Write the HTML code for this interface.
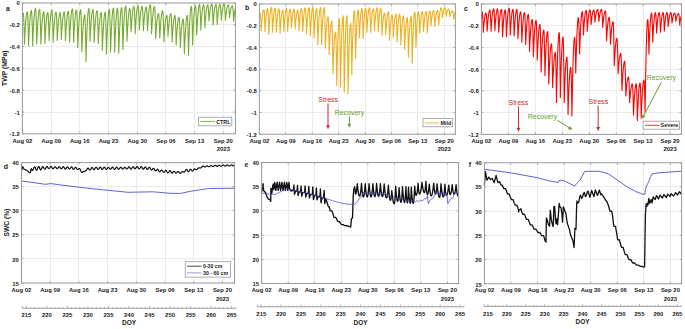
<!DOCTYPE html>
<html><head><meta charset="utf-8"><style>
html,body{margin:0;padding:0;background:#fff;width:685px;height:329px;overflow:hidden}
text{font-family:'Liberation Sans',sans-serif}
</style></head><body>
<svg width="685" height="329" viewBox="0 0 685 329" style="display:block;font-family:'Liberation Sans',sans-serif">
<rect width="685" height="329" fill="#fff"/>
<line x1="51.50" y1="3.00" x2="51.50" y2="133.80" stroke="#ebebeb" stroke-width="1"/>
<line x1="79.50" y1="3.00" x2="79.50" y2="133.80" stroke="#ebebeb" stroke-width="1"/>
<line x1="108.50" y1="3.00" x2="108.50" y2="133.80" stroke="#ebebeb" stroke-width="1"/>
<line x1="137.50" y1="3.00" x2="137.50" y2="133.80" stroke="#ebebeb" stroke-width="1"/>
<line x1="165.50" y1="3.00" x2="165.50" y2="133.80" stroke="#ebebeb" stroke-width="1"/>
<line x1="194.50" y1="3.00" x2="194.50" y2="133.80" stroke="#ebebeb" stroke-width="1"/>
<line x1="223.50" y1="3.00" x2="223.50" y2="133.80" stroke="#ebebeb" stroke-width="1"/>
<line x1="22.40" y1="24.50" x2="235.45" y2="24.50" stroke="#ebebeb" stroke-width="1"/>
<line x1="22.40" y1="46.50" x2="235.45" y2="46.50" stroke="#ebebeb" stroke-width="1"/>
<line x1="22.40" y1="68.50" x2="235.45" y2="68.50" stroke="#ebebeb" stroke-width="1"/>
<line x1="22.40" y1="90.50" x2="235.45" y2="90.50" stroke="#ebebeb" stroke-width="1"/>
<line x1="22.40" y1="112.50" x2="235.45" y2="112.50" stroke="#ebebeb" stroke-width="1"/>
<line x1="285.50" y1="3.90" x2="285.50" y2="134.25" stroke="#ebebeb" stroke-width="1"/>
<line x1="312.50" y1="3.90" x2="312.50" y2="134.25" stroke="#ebebeb" stroke-width="1"/>
<line x1="338.50" y1="3.90" x2="338.50" y2="134.25" stroke="#ebebeb" stroke-width="1"/>
<line x1="365.50" y1="3.90" x2="365.50" y2="134.25" stroke="#ebebeb" stroke-width="1"/>
<line x1="391.50" y1="3.90" x2="391.50" y2="134.25" stroke="#ebebeb" stroke-width="1"/>
<line x1="417.50" y1="3.90" x2="417.50" y2="134.25" stroke="#ebebeb" stroke-width="1"/>
<line x1="444.50" y1="3.90" x2="444.50" y2="134.25" stroke="#ebebeb" stroke-width="1"/>
<line x1="259.35" y1="25.50" x2="455.40" y2="25.50" stroke="#ebebeb" stroke-width="1"/>
<line x1="259.35" y1="47.50" x2="455.40" y2="47.50" stroke="#ebebeb" stroke-width="1"/>
<line x1="259.35" y1="69.50" x2="455.40" y2="69.50" stroke="#ebebeb" stroke-width="1"/>
<line x1="259.35" y1="90.50" x2="455.40" y2="90.50" stroke="#ebebeb" stroke-width="1"/>
<line x1="259.35" y1="112.50" x2="455.40" y2="112.50" stroke="#ebebeb" stroke-width="1"/>
<line x1="508.50" y1="3.95" x2="508.50" y2="134.40" stroke="#ebebeb" stroke-width="1"/>
<line x1="535.50" y1="3.95" x2="535.50" y2="134.40" stroke="#ebebeb" stroke-width="1"/>
<line x1="562.50" y1="3.95" x2="562.50" y2="134.40" stroke="#ebebeb" stroke-width="1"/>
<line x1="589.50" y1="3.95" x2="589.50" y2="134.40" stroke="#ebebeb" stroke-width="1"/>
<line x1="616.50" y1="3.95" x2="616.50" y2="134.40" stroke="#ebebeb" stroke-width="1"/>
<line x1="643.50" y1="3.95" x2="643.50" y2="134.40" stroke="#ebebeb" stroke-width="1"/>
<line x1="670.50" y1="3.95" x2="670.50" y2="134.40" stroke="#ebebeb" stroke-width="1"/>
<line x1="481.40" y1="25.50" x2="681.45" y2="25.50" stroke="#ebebeb" stroke-width="1"/>
<line x1="481.40" y1="47.50" x2="681.45" y2="47.50" stroke="#ebebeb" stroke-width="1"/>
<line x1="481.40" y1="69.50" x2="681.45" y2="69.50" stroke="#ebebeb" stroke-width="1"/>
<line x1="481.40" y1="90.50" x2="681.45" y2="90.50" stroke="#ebebeb" stroke-width="1"/>
<line x1="481.40" y1="112.50" x2="681.45" y2="112.50" stroke="#ebebeb" stroke-width="1"/>
<polyline points="22.40,17.00 22.61,16.41 22.81,15.00 23.02,13.59 23.22,13.00 23.43,13.86 23.63,16.46 23.84,20.77 24.04,26.82 24.25,34.60 24.45,44.10 24.66,39.65 24.86,35.53 25.07,31.74 25.27,28.28 25.48,25.15 25.68,22.35 25.89,19.88 26.09,17.73 26.30,15.92 26.50,14.44 26.71,13.28 26.91,12.46 27.12,11.96 27.32,11.80 27.53,12.75 27.73,15.59 27.94,20.32 28.14,26.96 28.35,35.48 28.55,45.90 28.76,41.00 28.96,36.46 29.17,32.28 29.37,28.46 29.58,25.01 29.78,21.92 29.99,19.20 30.19,16.84 30.40,14.84 30.60,13.21 30.81,11.93 31.01,11.03 31.22,10.48 31.42,10.30 31.63,11.29 31.83,14.26 32.04,19.20 32.24,26.12 32.45,35.02 32.65,45.90 32.86,40.75 33.06,35.98 33.27,31.59 33.47,27.58 33.68,23.96 33.88,20.71 34.09,17.85 34.29,15.37 34.50,13.27 34.70,11.55 34.91,10.22 35.11,9.26 35.32,8.69 35.52,8.50 35.73,9.49 35.93,12.46 36.14,17.40 36.34,24.32 36.55,33.22 36.75,44.10 36.96,39.32 37.16,34.89 37.37,30.82 37.57,27.10 37.78,23.74 37.98,20.73 38.19,18.07 38.39,15.77 38.60,13.83 38.80,12.23 39.01,10.99 39.21,10.11 39.42,9.58 39.62,9.40 39.83,10.36 40.03,13.26 40.24,18.08 40.44,24.82 40.65,33.50 40.85,44.10 41.06,39.65 41.26,35.53 41.47,31.74 41.67,28.28 41.88,25.15 42.09,22.35 42.29,19.88 42.50,17.73 42.70,15.92 42.91,14.44 43.11,13.28 43.32,12.46 43.52,11.96 43.73,11.80 43.93,12.68 44.14,15.32 44.34,19.73 44.55,25.89 44.75,33.81 44.96,43.50 45.16,39.23 45.37,35.28 45.57,31.64 45.78,28.32 45.98,25.31 46.19,22.62 46.39,20.25 46.60,18.19 46.80,16.45 47.01,15.03 47.21,13.92 47.42,13.13 47.62,12.66 47.83,12.50 48.03,13.28 48.24,15.60 48.44,19.48 48.65,24.90 48.85,31.88 49.06,40.40 49.26,36.20 49.47,32.31 49.67,28.73 49.88,25.46 50.08,22.50 50.29,19.86 50.49,17.52 50.70,15.50 50.90,13.79 51.11,12.39 51.31,11.30 51.52,10.52 51.72,10.06 51.93,9.90 52.13,10.80 52.34,13.49 52.54,17.98 52.75,24.26 52.95,32.33 53.16,42.20 53.36,38.05 53.57,34.21 53.77,30.68 53.98,27.46 54.18,24.54 54.39,21.93 54.59,19.62 54.80,17.63 55.00,15.94 55.21,14.56 55.41,13.48 55.62,12.71 55.82,12.25 56.03,12.10 56.23,12.89 56.44,15.24 56.64,19.17 56.85,24.68 57.05,31.75 57.26,40.40 57.46,36.56 57.67,33.00 57.87,29.72 58.08,26.73 58.28,24.03 58.49,21.61 58.69,19.48 58.90,17.62 59.10,16.06 59.31,14.78 59.51,13.78 59.72,13.07 59.92,12.64 60.13,12.50 60.33,13.25 60.54,15.50 60.74,19.25 60.95,24.50 61.16,31.25 61.36,39.50 61.57,35.68 61.77,32.15 61.98,28.90 62.18,25.93 62.39,23.25 62.59,20.84 62.80,18.73 63.00,16.89 63.21,15.33 63.41,14.06 63.62,13.07 63.82,12.37 64.03,11.94 64.23,11.80 64.44,12.59 64.64,14.98 64.85,18.95 65.05,24.51 65.26,31.66 65.46,40.40 65.67,36.38 65.87,32.65 66.08,29.23 66.28,26.10 66.49,23.27 66.69,20.73 66.90,18.50 67.10,16.56 67.31,14.92 67.51,13.58 67.72,12.54 67.92,11.80 68.13,11.35 68.33,11.20 68.54,12.06 68.74,14.64 68.95,18.95 69.15,24.98 69.36,32.73 69.56,42.20 69.77,37.60 69.97,33.34 70.18,29.42 70.38,25.84 70.59,22.60 70.79,19.71 71.00,17.15 71.20,14.93 71.41,13.06 71.61,11.53 71.82,10.33 72.02,9.48 72.23,8.97 72.43,8.80 72.64,9.73 72.84,12.51 73.05,17.15 73.25,23.64 73.46,31.99 73.66,42.20 73.87,37.75 74.07,33.63 74.28,29.84 74.48,26.38 74.69,23.25 74.89,20.45 75.10,17.98 75.30,15.83 75.51,14.02 75.71,12.54 75.92,11.38 76.12,10.56 76.33,10.06 76.53,9.90 76.74,10.95 76.94,14.10 77.15,19.35 77.35,26.70 77.56,36.15 77.76,47.70 77.97,42.49 78.17,37.67 78.38,33.24 78.58,29.19 78.79,25.52 78.99,22.24 79.20,19.35 79.40,16.84 79.61,14.72 79.81,12.99 80.02,11.64 80.22,10.67 80.43,10.09 80.64,9.90 80.84,11.05 81.05,14.51 81.25,20.27 81.46,28.34 81.66,38.72 81.87,51.40 82.07,46.37 82.28,41.72 82.48,37.43 82.69,33.52 82.89,29.98 83.10,26.82 83.30,24.02 83.51,21.60 83.71,19.56 83.92,17.88 84.12,16.58 84.33,15.64 84.53,15.09 84.74,14.90 84.94,16.20 85.15,20.11 85.35,26.62 85.56,35.74 85.76,47.47 85.97,61.80 86.17,54.46 86.38,47.66 86.58,41.40 86.79,35.69 86.99,30.53 87.20,25.90 87.40,21.83 87.61,18.29 87.81,15.30 88.02,12.85 88.22,10.95 88.43,9.59 88.63,8.77 88.84,8.50 89.04,9.41 89.25,12.14 89.45,16.70 89.66,23.08 89.86,31.28 90.07,41.30 90.27,36.91 90.48,32.84 90.68,29.09 90.89,25.68 91.09,22.58 91.30,19.82 91.50,17.38 91.71,15.26 91.91,13.47 92.12,12.00 92.32,10.86 92.53,10.05 92.73,9.56 92.94,9.40 93.14,10.31 93.35,13.04 93.55,17.60 93.76,23.98 93.96,32.18 94.17,42.20 94.37,37.86 94.58,33.84 94.78,30.15 94.99,26.77 95.19,23.72 95.40,20.99 95.60,18.57 95.81,16.49 96.01,14.72 96.22,13.27 96.42,12.15 96.63,11.34 96.83,10.86 97.04,10.70 97.24,11.61 97.45,14.34 97.65,18.90 97.86,25.28 98.06,33.48 98.27,43.50 98.47,39.23 98.68,35.28 98.88,31.64 99.09,28.32 99.29,25.31 99.50,22.62 99.70,20.25 99.91,18.19 100.12,16.45 100.32,15.03 100.53,13.92 100.73,13.13 100.94,12.66 101.14,12.50 101.35,13.55 101.55,16.71 101.76,21.98 101.96,29.34 102.17,38.82 102.37,50.40 102.58,45.12 102.78,40.24 102.99,35.74 103.19,31.64 103.40,27.93 103.60,24.61 103.81,21.68 104.01,19.13 104.22,16.99 104.42,15.23 104.63,13.86 104.83,12.88 105.04,12.30 105.24,12.10 105.45,13.27 105.65,16.77 105.86,22.60 106.06,30.77 106.27,41.27 106.47,54.10 106.68,47.94 106.88,42.24 107.09,37.00 107.29,32.21 107.50,27.87 107.70,24.00 107.91,20.57 108.11,17.61 108.32,15.10 108.52,13.05 108.73,11.45 108.93,10.31 109.14,9.63 109.34,9.40 109.55,10.58 109.75,14.12 109.96,20.02 110.16,28.29 110.37,38.91 110.57,51.90 110.78,45.87 110.98,40.28 111.19,35.14 111.39,30.45 111.60,26.20 111.80,22.40 112.01,19.05 112.21,16.14 112.42,13.69 112.62,11.68 112.83,10.11 113.03,8.99 113.24,8.32 113.44,8.10 113.65,9.32 113.85,12.97 114.06,19.05 114.26,27.57 114.47,38.52 114.67,51.90 114.88,45.87 115.08,40.28 115.29,35.14 115.49,30.45 115.70,26.20 115.90,22.40 116.11,19.05 116.31,16.14 116.52,13.69 116.72,11.68 116.93,10.11 117.13,8.99 117.34,8.32 117.54,8.10 117.75,9.35 117.95,13.11 118.16,19.38 118.36,28.14 118.57,39.42 118.77,53.20 118.98,46.92 119.18,41.10 119.39,35.75 119.60,30.87 119.80,26.44 120.01,22.49 120.21,19.00 120.42,15.98 120.62,13.42 120.83,11.32 121.03,9.69 121.24,8.53 121.44,7.83 121.65,7.60 121.85,8.76 122.06,12.26 122.26,18.07 122.47,26.22 122.67,36.70 122.88,49.50 123.08,43.51 123.29,37.96 123.49,32.85 123.70,28.19 123.90,23.98 124.11,20.20 124.31,16.88 124.52,13.99 124.72,11.55 124.93,9.55 125.13,8.00 125.34,6.89 125.54,6.22 125.75,6.00 125.95,6.98 126.16,9.92 126.36,14.82 126.57,21.69 126.77,30.51 126.98,41.30 127.18,36.78 127.39,32.60 127.59,28.75 127.80,25.23 128.00,22.06 128.21,19.21 128.41,16.70 128.62,14.52 128.82,12.68 129.03,11.18 129.23,10.01 129.44,9.17 129.64,8.67 129.85,8.50 130.05,9.15 130.26,11.09 130.46,14.32 130.67,18.86 130.87,24.68 131.08,31.80 131.28,28.29 131.49,25.03 131.69,22.04 131.90,19.31 132.10,16.84 132.31,14.63 132.51,12.68 132.72,10.98 132.92,9.55 133.13,8.38 133.33,7.47 133.54,6.82 133.74,6.43 133.95,6.30 134.15,7.06 134.36,9.34 134.56,13.15 134.77,18.48 134.97,25.33 135.18,33.70 135.38,29.84 135.59,26.27 135.79,22.99 136.00,19.99 136.20,17.27 136.41,14.84 136.61,12.70 136.82,10.84 137.02,9.27 137.23,7.99 137.43,6.99 137.64,6.27 137.84,5.84 138.05,5.70 138.25,6.38 138.46,8.40 138.67,11.78 138.87,16.50 139.08,22.58 139.28,30.00 139.49,26.74 139.69,23.71 139.90,20.93 140.10,18.39 140.31,16.09 140.51,14.04 140.72,12.23 140.92,10.65 141.13,9.32 141.33,8.23 141.54,7.39 141.74,6.78 141.95,6.42 142.15,6.30 142.36,6.98 142.56,9.01 142.77,12.40 142.97,17.14 143.18,23.24 143.38,30.70 143.59,27.44 143.79,24.41 144.00,21.63 144.20,19.09 144.41,16.79 144.61,14.74 144.82,12.93 145.02,11.35 145.23,10.02 145.43,8.93 145.64,8.09 145.84,7.48 146.05,7.12 146.25,7.00 146.46,7.65 146.66,9.60 146.87,12.85 147.07,17.40 147.28,23.25 147.48,30.40 147.69,26.87 147.89,23.61 148.10,20.60 148.30,17.86 148.51,15.38 148.71,13.16 148.92,11.20 149.12,9.50 149.33,8.07 149.53,6.89 149.74,5.98 149.94,5.32 150.15,4.93 150.35,4.80 150.56,5.60 150.76,8.01 150.97,12.03 151.17,17.64 151.38,24.87 151.58,33.70 151.79,29.97 151.99,26.51 152.20,23.33 152.40,20.43 152.61,17.80 152.81,15.45 153.02,13.38 153.22,11.58 153.43,10.06 153.63,8.81 153.84,7.84 154.04,7.15 154.25,6.74 154.45,6.60 154.66,7.49 154.86,10.16 155.07,14.60 155.27,20.82 155.48,28.82 155.68,38.60 155.89,35.16 156.09,31.97 156.30,29.03 156.50,26.36 156.71,23.93 156.91,21.76 157.12,19.85 157.32,18.19 157.53,16.79 157.73,15.64 157.94,14.75 158.15,14.11 158.35,13.73 158.56,13.60 158.76,14.28 158.97,16.31 159.17,19.70 159.38,24.44 159.58,30.54 159.79,38.00 159.99,34.24 160.20,30.76 160.40,27.55 160.61,24.63 160.81,21.98 161.02,19.61 161.22,17.52 161.43,15.71 161.63,14.18 161.84,12.93 162.04,11.95 162.25,11.26 162.45,10.84 162.66,10.70 162.86,11.57 163.07,14.17 163.27,18.50 163.48,24.57 163.68,32.37 163.89,41.90 164.09,38.25 164.30,34.87 164.50,31.76 164.71,28.92 164.91,26.35 165.12,24.05 165.32,22.02 165.53,20.27 165.73,18.78 165.94,17.56 166.14,16.62 166.35,15.94 166.55,15.54 166.76,15.40 166.96,15.99 167.17,17.78 167.37,20.75 167.58,24.91 167.78,30.26 167.99,36.80 168.19,33.60 168.40,30.64 168.60,27.92 168.81,25.44 169.01,23.19 169.22,21.18 169.42,19.40 169.63,17.86 169.83,16.56 170.04,15.49 170.24,14.67 170.45,14.07 170.65,13.72 170.86,13.60 171.06,14.39 171.27,16.78 171.47,20.75 171.68,26.31 171.88,33.46 172.09,42.20 172.29,38.51 172.50,35.09 172.70,31.94 172.91,29.07 173.11,26.48 173.32,24.15 173.52,22.10 173.73,20.32 173.93,18.82 174.14,17.59 174.34,16.63 174.55,15.95 174.75,15.54 174.96,15.40 175.16,16.22 175.37,18.69 175.57,22.80 175.78,28.56 175.98,35.96 176.19,45.00 176.39,41.17 176.60,37.62 176.80,34.36 177.01,31.38 177.21,28.69 177.42,26.28 177.63,24.15 177.83,22.31 178.04,20.75 178.24,19.47 178.45,18.48 178.65,17.77 178.86,17.34 179.06,17.20 179.27,18.05 179.47,20.59 179.68,24.82 179.88,30.76 180.09,38.38 180.29,47.70 180.50,43.76 180.70,40.11 180.91,36.76 181.11,33.69 181.32,30.92 181.52,28.44 181.73,26.25 181.93,24.35 182.14,22.75 182.34,21.43 182.55,20.41 182.75,19.68 182.96,19.25 183.16,19.10 183.37,20.06 183.57,22.94 183.78,27.75 183.98,34.48 184.19,43.13 184.39,53.70 184.60,48.42 184.80,43.54 185.01,39.04 185.21,34.94 185.42,31.23 185.62,27.91 185.83,24.98 186.03,22.43 186.24,20.29 186.44,18.53 186.65,17.16 186.85,16.18 187.06,15.60 187.26,15.40 187.47,16.52 187.67,19.87 187.88,25.45 188.08,33.27 188.29,43.32 188.49,55.60 188.70,48.81 188.90,42.52 189.11,36.74 189.31,31.45 189.52,26.67 189.72,22.40 189.93,18.62 190.13,15.36 190.34,12.59 190.54,10.32 190.75,8.56 190.95,7.31 191.16,6.55 191.36,6.30 191.57,7.38 191.77,10.60 191.98,15.98 192.18,23.50 192.39,33.18 192.59,45.00 192.80,39.59 193.00,34.57 193.21,29.96 193.41,25.75 193.62,21.94 193.82,18.53 194.03,15.53 194.23,12.92 194.44,10.71 194.64,8.91 194.85,7.50 195.05,6.50 195.26,5.90 195.46,5.70 195.67,6.51 195.87,8.94 196.08,13.00 196.28,18.68 196.49,25.98 196.69,34.90 196.90,30.71 197.11,26.83 197.31,23.27 197.52,20.01 197.72,17.06 197.93,14.43 198.13,12.10 198.34,10.08 198.54,8.38 198.75,6.98 198.95,5.90 199.16,5.12 199.36,4.66 199.57,4.50 199.77,5.21 199.98,7.33 200.18,10.88 200.39,15.83 200.59,22.21 200.80,30.00 201.00,26.53 201.21,23.31 201.41,20.36 201.62,17.66 201.82,15.21 202.03,13.03 202.23,11.10 202.44,9.43 202.64,8.01 202.85,6.86 203.05,5.96 203.26,5.31 203.46,4.93 203.67,4.80 203.87,5.43 204.08,7.33 204.28,10.50 204.49,14.93 204.69,20.63 204.90,27.60 205.10,24.46 205.31,21.55 205.51,18.88 205.72,16.43 205.92,14.22 206.13,12.24 206.33,10.50 206.54,8.99 206.74,7.71 206.95,6.66 207.15,5.85 207.36,5.27 207.56,4.92 207.77,4.80 207.97,5.25 208.18,6.59 208.38,8.82 208.59,11.96 208.79,15.98 209.00,20.90 209.20,18.56 209.41,16.39 209.61,14.39 209.82,12.57 210.02,10.93 210.23,9.45 210.43,8.15 210.64,7.02 210.84,6.07 211.05,5.29 211.25,4.68 211.46,4.25 211.66,3.99 211.87,3.90 212.07,4.49 212.28,6.28 212.48,9.25 212.69,13.41 212.89,18.76 213.10,25.30 213.30,22.43 213.51,19.78 213.71,17.34 213.92,15.11 214.12,13.10 214.33,11.29 214.53,9.70 214.74,8.32 214.94,7.15 215.15,6.20 215.35,5.46 215.56,4.92 215.76,4.61 215.97,4.50 216.18,5.06 216.38,6.72 216.59,9.50 216.79,13.39 217.00,18.39 217.20,24.50 217.41,21.74 217.61,19.19 217.82,16.85 218.02,14.70 218.23,12.77 218.43,11.03 218.64,9.50 218.84,8.17 219.05,7.05 219.25,6.13 219.46,5.42 219.66,4.91 219.87,4.60 220.07,4.50 220.28,4.94 220.48,6.26 220.69,8.45 220.89,11.52 221.10,15.47 221.30,20.30 221.51,18.04 221.71,15.95 221.92,14.02 222.12,12.27 222.33,10.68 222.53,9.26 222.74,8.00 222.94,6.91 223.15,5.99 223.35,5.24 223.56,4.65 223.76,4.23 223.97,3.98 224.17,3.90 224.38,4.36 224.58,5.72 224.79,8.00 224.99,11.19 225.20,15.29 225.40,20.30 225.61,18.16 225.81,16.19 226.02,14.37 226.22,12.71 226.43,11.21 226.63,9.86 226.84,8.68 227.04,7.65 227.25,6.78 227.45,6.07 227.66,5.51 227.86,5.12 228.07,4.88 228.27,4.80 228.48,5.16 228.68,6.22 228.89,8.00 229.09,10.49 229.30,13.69 229.50,17.60 229.71,15.96 229.91,14.44 230.12,13.05 230.32,11.77 230.53,10.62 230.73,9.59 230.94,8.68 231.14,7.89 231.35,7.22 231.55,6.67 231.76,6.25 231.96,5.94 232.17,5.76 232.37,5.70 232.58,6.13 232.78,7.42 232.99,9.57 233.19,12.59 233.40,16.46 233.60,21.20 233.81,19.06 234.01,17.09 234.22,15.27 234.42,13.61 234.63,12.11 234.83,10.76 235.04,9.57 235.24,8.55" fill="none" stroke="#77AC30" stroke-width="1.1" stroke-linejoin="round" stroke-linecap="round" />
<polyline points="259.35,17.00 259.60,15.97 259.85,13.93 260.10,12.90 260.33,13.61 260.56,15.75 260.78,19.31 261.01,24.29 261.24,30.70 261.44,27.58 261.64,24.71 261.85,22.09 262.05,19.71 262.25,17.59 262.46,15.72 262.66,14.09 262.86,12.72 263.07,11.60 263.27,10.72 263.47,10.10 263.68,9.72 263.88,9.60 264.11,10.48 264.33,13.10 264.56,17.48 264.78,23.62 265.01,31.50 265.21,28.10 265.42,24.97 265.62,22.11 265.82,19.52 266.03,17.21 266.23,15.17 266.43,13.40 266.64,11.90 266.84,10.68 267.04,9.72 267.25,9.04 267.45,8.64 267.65,8.50 267.88,9.54 268.11,12.64 268.33,17.82 268.56,25.08 268.78,34.40 268.99,30.41 269.19,26.73 269.39,23.38 269.60,20.34 269.80,17.62 270.00,15.23 270.21,13.15 270.41,11.39 270.61,9.96 270.82,8.84 271.02,8.04 271.22,7.56 271.43,7.40 271.65,8.39 271.88,11.37 272.11,16.33 272.33,23.27 272.56,32.20 272.76,28.63 272.96,25.36 273.17,22.36 273.37,19.65 273.57,17.23 273.78,15.09 273.98,13.23 274.18,11.67 274.39,10.38 274.59,9.38 274.79,8.67 275.00,8.24 275.20,8.10 275.43,9.06 275.65,11.96 275.88,16.78 276.11,23.52 276.33,32.20 276.54,28.74 276.74,25.55 276.94,22.65 277.15,20.02 277.35,17.66 277.55,15.58 277.75,13.78 277.96,12.26 278.16,11.02 278.36,10.05 278.57,9.35 278.77,8.94 278.97,8.80 279.20,9.76 279.43,12.66 279.65,17.48 279.88,24.22 280.11,32.90 280.31,29.51 280.51,26.40 280.72,23.55 280.92,20.98 281.12,18.67 281.33,16.64 281.53,14.88 281.73,13.39 281.93,12.17 282.14,11.22 282.34,10.54 282.54,10.14 282.75,10.00 282.97,10.86 283.20,13.44 283.43,17.74 283.65,23.76 283.88,31.50 284.08,28.10 284.29,24.97 284.49,22.11 284.69,19.52 284.90,17.21 285.10,15.17 285.30,13.40 285.51,11.90 285.71,10.68 285.91,9.72 286.12,9.04 286.32,8.64 286.52,8.50 286.75,9.42 286.97,12.18 287.20,16.78 287.43,23.22 287.65,31.50 287.86,28.19 288.06,25.14 288.26,22.35 288.47,19.84 288.67,17.58 288.87,15.59 289.08,13.87 289.28,12.41 289.48,11.22 289.69,10.29 289.89,9.63 290.09,9.23 290.30,9.10 290.52,9.85 290.75,12.09 290.97,15.83 291.20,21.07 291.43,27.80 291.63,25.03 291.83,22.49 292.04,20.17 292.24,18.06 292.44,16.18 292.65,14.52 292.85,13.08 293.05,11.87 293.26,10.87 293.46,10.10 293.66,9.54 293.87,9.21 294.07,9.10 294.30,9.90 294.52,12.28 294.75,16.26 294.97,21.84 295.20,29.00 295.40,26.19 295.61,23.60 295.81,21.24 296.01,19.11 296.22,17.20 296.42,15.51 296.62,14.05 296.83,12.81 297.03,11.80 297.23,11.01 297.44,10.45 297.64,10.11 297.84,10.00 298.07,10.83 298.30,13.31 298.52,17.45 298.75,23.25 298.98,30.70 299.18,27.42 299.38,24.39 299.58,21.64 299.79,19.14 299.99,16.91 300.19,14.94 300.40,13.23 300.60,11.78 300.80,10.60 301.01,9.68 301.21,9.03 301.41,8.63 301.62,8.50 301.84,9.42 302.07,12.18 302.30,16.78 302.52,23.22 302.75,31.50 302.95,27.98 303.16,24.74 303.36,21.78 303.56,19.11 303.76,16.71 303.97,14.60 304.17,12.77 304.37,11.22 304.58,9.95 304.78,8.97 304.98,8.26 305.19,7.84 305.39,7.70 305.62,8.74 305.84,11.86 306.07,17.06 306.30,24.34 306.52,33.70 306.73,29.85 306.93,26.32 307.13,23.08 307.34,20.16 307.54,17.55 307.74,15.24 307.95,13.24 308.15,11.55 308.35,10.16 308.55,9.08 308.76,8.32 308.96,7.85 309.16,7.70 309.39,8.82 309.62,12.20 309.84,17.82 310.07,25.68 310.30,35.80 310.50,31.55 310.70,27.65 310.91,24.08 311.11,20.86 311.31,17.97 311.52,15.42 311.72,13.21 311.92,11.35 312.13,9.82 312.33,8.63 312.53,7.78 312.74,7.27 312.94,7.10 313.16,8.34 313.39,12.04 313.62,18.22 313.84,26.88 314.07,38.00 314.27,33.64 314.48,29.62 314.68,25.96 314.88,22.64 315.09,19.67 315.29,17.05 315.49,14.78 315.70,12.86 315.90,11.29 316.10,10.07 316.31,9.20 316.51,8.67 316.71,8.50 316.94,9.94 317.16,14.28 317.39,21.50 317.62,31.60 317.84,44.60 318.05,39.13 318.25,34.09 318.45,29.49 318.66,25.33 318.86,21.61 319.06,18.33 319.27,15.48 319.47,13.07 319.67,11.10 319.88,9.57 320.08,8.48 320.28,7.82 320.49,7.60 320.71,9.08 320.94,13.52 321.17,20.92 321.39,31.28 321.62,44.60 321.82,39.13 322.02,34.09 322.23,29.49 322.43,25.33 322.63,21.61 322.84,18.33 323.04,15.48 323.24,13.07 323.45,11.10 323.65,9.57 323.85,8.48 324.06,7.82 324.26,7.60 324.49,9.22 324.71,14.10 324.94,22.22 325.17,33.58 325.39,48.20 325.60,43.54 325.80,39.25 326.00,35.34 326.20,31.80 326.41,28.63 326.61,25.83 326.81,23.41 327.02,21.36 327.22,19.68 327.42,18.38 327.63,17.45 327.83,16.89 328.03,16.70 328.26,18.22 328.49,22.76 328.71,30.34 328.94,40.96 329.17,54.60 329.37,49.66 329.57,45.11 329.78,40.96 329.98,37.21 330.18,33.85 330.38,30.88 330.59,28.31 330.79,26.14 330.99,24.36 331.20,22.98 331.40,21.99 331.60,21.40 331.81,21.20 332.03,23.30 332.26,29.62 332.49,40.14 332.71,54.86 332.94,73.80 333.14,67.65 333.35,61.98 333.55,56.82 333.75,52.14 333.96,47.95 334.16,44.26 334.36,41.06 334.57,38.35 334.77,36.14 334.97,34.42 335.17,33.18 335.38,32.45 335.58,32.20 335.81,34.34 336.03,40.74 336.26,51.42 336.49,66.38 336.71,85.60 336.92,75.67 337.12,66.54 337.32,58.20 337.53,50.66 337.73,43.91 337.93,37.96 338.14,32.79 338.34,28.43 338.54,24.85 338.75,22.07 338.95,20.09 339.15,18.90 339.36,18.50 339.58,21.26 339.81,29.52 340.03,43.30 340.26,62.60 340.49,87.40 340.69,76.81 340.89,67.06 341.10,58.17 341.30,50.12 341.50,42.91 341.71,36.56 341.91,31.05 342.11,26.39 342.32,22.58 342.52,19.61 342.72,17.49 342.93,16.22 343.13,15.80 343.36,18.85 343.58,27.99 343.81,43.23 344.03,64.57 344.26,92.00 344.46,80.73 344.67,70.36 344.87,60.89 345.07,52.32 345.28,44.66 345.48,37.89 345.68,32.03 345.89,27.07 346.09,23.01 346.29,19.86 346.50,17.60 346.70,16.25 346.90,15.80 347.13,18.92 347.36,28.28 347.58,43.88 347.81,65.72 348.03,93.80 348.24,83.34 348.44,73.72 348.64,64.93 348.85,56.99 349.05,49.87 349.25,43.60 349.46,38.16 349.66,33.56 349.86,29.79 350.07,26.87 350.27,24.77 350.47,23.52 350.68,23.10 350.90,25.16 351.13,31.36 351.36,41.68 351.58,56.12 351.81,74.70 352.01,65.23 352.22,56.52 352.42,48.57 352.62,41.37 352.82,34.94 353.03,29.26 353.23,24.33 353.43,20.17 353.64,16.76 353.84,14.11 354.04,12.21 354.25,11.08 354.45,10.70 354.68,12.60 354.90,18.30 355.13,27.80 355.36,41.10 355.58,58.20 355.79,51.06 355.99,44.48 356.19,38.48 356.40,33.05 356.60,28.19 356.80,23.90 357.00,20.19 357.21,17.04 357.41,14.47 357.61,12.47 357.82,11.04 358.02,10.19 358.22,9.90 358.45,11.01 358.68,14.35 358.90,19.91 359.13,27.69 359.36,37.70 359.56,33.38 359.76,29.41 359.97,25.78 360.17,22.50 360.37,19.56 360.58,16.97 360.78,14.72 360.98,12.82 361.19,11.26 361.39,10.06 361.59,9.19 361.79,8.67 362.00,8.50 362.22,9.70 362.45,13.32 362.68,19.34 362.90,27.76 363.13,38.60 363.33,34.09 363.54,29.94 363.74,26.15 363.94,22.72 364.15,19.65 364.35,16.94 364.55,14.60 364.76,12.61 364.96,10.99 365.16,9.72 365.37,8.82 365.57,8.28 365.77,8.10 366.00,9.06 366.22,11.96 366.45,16.78 366.68,23.52 366.90,32.20 367.11,28.58 367.31,25.24 367.51,22.20 367.72,19.44 367.92,16.98 368.12,14.80 368.33,12.92 368.53,11.32 368.73,10.02 368.94,9.00 369.14,8.28 369.34,7.84 369.55,7.70 369.77,8.68 370.00,11.62 370.22,16.52 370.45,23.38 370.68,32.20 370.88,28.77 371.08,25.61 371.29,22.73 371.49,20.12 371.69,17.79 371.90,15.73 372.10,13.94 372.30,12.43 372.51,11.20 372.71,10.24 372.91,9.55 373.12,9.14 373.32,9.00 373.55,9.86 373.77,12.44 374.00,16.74 374.23,22.76 374.45,30.50 374.65,27.13 374.86,24.02 375.06,21.19 375.26,18.63 375.47,16.33 375.67,14.31 375.87,12.56 376.08,11.07 376.28,9.86 376.48,8.91 376.69,8.24 376.89,7.83 377.09,7.70 377.32,8.65 377.55,11.51 377.77,16.27 378.00,22.93 378.23,31.50 378.43,28.04 378.63,24.85 378.83,21.95 379.04,19.32 379.24,16.96 379.44,14.88 379.65,13.08 379.85,11.56 380.05,10.32 380.26,9.35 380.46,8.65 380.66,8.24 380.87,8.10 381.09,9.19 381.32,12.45 381.55,17.89 381.77,25.51 382.00,35.30 382.20,32.02 382.41,28.99 382.61,26.24 382.81,23.74 383.02,21.51 383.22,19.54 383.42,17.83 383.62,16.38 383.83,15.20 384.03,14.28 384.23,13.63 384.44,13.23 384.64,13.10 384.87,13.96 385.09,16.56 385.32,20.88 385.55,26.92 385.77,34.70 385.98,31.30 386.18,28.17 386.38,25.31 386.59,22.72 386.79,20.41 386.99,18.37 387.20,16.60 387.40,15.10 387.60,13.88 387.81,12.92 388.01,12.24 388.21,11.84 388.41,11.70 388.64,12.84 388.87,16.26 389.09,21.96 389.32,29.94 389.55,40.20 389.75,36.44 389.95,32.99 390.16,29.83 390.36,26.97 390.56,24.42 390.77,22.16 390.97,20.21 391.17,18.56 391.38,17.20 391.58,16.15 391.78,15.40 391.99,14.95 392.19,14.80 392.41,15.69 392.64,18.37 392.87,22.83 393.09,29.07 393.32,37.10 393.52,33.68 393.73,30.54 393.93,27.67 394.13,25.07 394.34,22.75 394.54,20.70 394.74,18.92 394.95,17.42 395.15,16.19 395.35,15.23 395.56,14.55 395.76,14.14 395.96,14.00 396.19,15.12 396.42,18.48 396.64,24.08 396.87,31.92 397.09,42.00 397.30,37.86 397.50,34.05 397.70,30.57 397.91,27.42 398.11,24.60 398.31,22.12 398.52,19.96 398.72,18.14 398.92,16.65 399.13,15.49 399.33,14.66 399.53,14.17 399.74,14.00 399.96,15.24 400.19,18.96 400.42,25.16 400.64,33.84 400.87,45.00 401.07,40.68 401.27,36.71 401.48,33.08 401.68,29.80 401.88,26.86 402.09,24.27 402.29,22.02 402.49,20.12 402.70,18.56 402.90,17.36 403.10,16.49 403.31,15.97 403.51,15.80 403.74,17.14 403.96,21.16 404.19,27.86 404.42,37.24 404.64,49.30 404.85,44.60 405.05,40.27 405.25,36.32 405.45,32.74 405.66,29.54 405.86,26.72 406.06,24.27 406.27,22.20 406.47,20.51 406.67,19.19 406.88,18.25 407.08,17.69 407.28,17.50 407.51,19.09 407.74,23.85 407.96,31.79 408.19,42.91 408.42,57.20 408.62,51.16 408.82,45.61 409.03,40.54 409.23,35.96 409.43,31.85 409.64,28.23 409.84,25.09 410.04,22.44 410.24,20.26 410.45,18.57 410.65,17.37 410.85,16.64 411.06,16.40 411.28,18.28 411.51,23.90 411.74,33.28 411.96,46.42 412.19,63.30 412.39,55.73 412.60,48.76 412.80,42.40 413.00,36.64 413.21,31.49 413.41,26.94 413.61,23.01 413.82,19.67 414.02,16.95 414.22,14.83 414.43,13.31 414.63,12.40 414.83,12.10 415.06,13.49 415.28,17.67 415.51,24.63 415.74,34.37 415.96,46.90 416.17,41.69 416.37,36.90 416.57,32.53 416.78,28.57 416.98,25.03 417.18,21.91 417.39,19.20 417.59,16.91 417.79,15.03 418.00,13.57 418.20,12.53 418.40,11.91 418.61,11.70 418.83,12.57 419.06,15.19 419.28,19.55 419.51,25.65 419.74,33.50 419.94,30.28 420.14,27.31 420.35,24.60 420.55,22.15 420.75,19.96 420.96,18.02 421.16,16.34 421.36,14.92 421.57,13.76 421.77,12.86 421.97,12.22 422.18,11.83 422.38,11.70 422.61,12.50 422.83,14.90 423.06,18.90 423.28,24.50 423.51,31.70 423.71,28.68 423.92,25.91 424.12,23.37 424.32,21.08 424.53,19.03 424.73,17.21 424.93,15.65 425.14,14.32 425.34,13.23 425.54,12.39 425.75,11.78 425.95,11.42 426.15,11.30 426.38,12.16 426.61,14.76 426.83,19.08 427.06,25.12 427.29,32.90 427.49,29.63 427.69,26.62 427.89,23.88 428.10,21.39 428.30,19.17 428.50,17.21 428.71,15.51 428.91,14.07 429.11,12.89 429.32,11.98 429.52,11.32 429.72,10.93 429.93,10.80 430.15,11.39 430.38,13.17 430.61,16.13 430.83,20.27 431.06,25.60 431.26,23.35 431.47,21.28 431.67,19.39 431.87,17.69 432.07,16.16 432.28,14.81 432.48,13.64 432.68,12.65 432.89,11.84 433.09,11.21 433.29,10.76 433.50,10.49 433.70,10.40 433.93,11.04 434.15,12.98 434.38,16.20 434.61,20.70 434.83,26.50 435.04,24.12 435.24,21.93 435.44,19.93 435.65,18.12 435.85,16.50 436.05,15.07 436.26,13.83 436.46,12.78 436.66,11.92 436.86,11.26 437.07,10.78 437.27,10.50 437.47,10.40 437.70,10.99 437.93,12.77 438.15,15.73 438.38,19.87 438.61,25.20 438.81,22.61 439.01,20.23 439.22,18.06 439.42,16.09 439.62,14.33 439.83,12.77 440.03,11.43 440.23,10.29 440.44,9.36 440.64,8.63 440.84,8.11 441.04,7.80 441.25,7.70 441.47,8.10 441.70,9.32 441.93,11.34 442.15,14.16 442.38,17.80 442.58,16.31 442.79,14.93 442.99,13.68 443.19,12.54 443.40,11.52 443.60,10.63 443.80,9.85 444.01,9.19 444.21,8.66 444.41,8.24 444.62,7.94 444.82,7.76 445.02,7.70 445.25,8.05 445.47,9.09 445.70,10.83 445.93,13.27 446.15,16.40 446.36,15.31 446.56,14.30 446.76,13.38 446.97,12.55 447.17,11.80 447.37,11.15 447.58,10.58 447.78,10.09 447.98,9.70 448.19,9.39 448.39,9.18 448.59,9.04 448.80,9.00 449.02,9.30 449.25,10.18 449.48,11.66 449.70,13.74 449.93,16.40 450.13,15.57 450.33,14.81 450.54,14.11 450.74,13.48 450.94,12.92 451.15,12.42 451.35,11.99 451.55,11.63 451.76,11.33 451.96,11.10 452.16,10.93 452.37,10.83 452.57,10.80 452.80,11.13 453.02,12.13 453.25,13.79 453.48,16.11 453.70,19.10 453.90,17.87 454.11,16.74 454.31,15.71 454.51,14.78 454.72,13.94 454.92,13.21 455.12,12.57" fill="none" stroke="#EDB120" stroke-width="1.1" stroke-linejoin="round" stroke-linecap="round" />
<polyline points="481.40,19.00 481.66,17.20 481.91,13.60 482.17,11.80 482.40,12.62 482.63,15.06 482.86,19.14 483.09,24.86 483.33,32.20 483.53,29.36 483.74,26.75 483.95,24.36 484.15,22.20 484.36,20.27 484.57,18.57 484.78,17.09 484.98,15.84 485.19,14.82 485.40,14.02 485.61,13.45 485.81,13.11 486.02,13.00 486.25,13.73 486.48,15.93 486.71,19.59 486.95,24.71 487.18,31.30 487.38,28.13 487.59,25.22 487.80,22.56 488.01,20.16 488.21,18.00 488.42,16.10 488.63,14.46 488.84,13.07 489.04,11.93 489.25,11.04 489.46,10.41 489.66,10.03 489.87,9.90 490.10,10.76 490.33,13.32 490.56,17.60 490.80,23.60 491.03,31.30 491.23,27.97 491.44,24.91 491.65,22.11 491.86,19.58 492.06,17.32 492.27,15.32 492.48,13.59 492.69,12.13 492.89,10.93 493.10,10.00 493.31,9.33 493.52,8.93 493.72,8.80 493.95,9.66 494.18,12.26 494.42,16.58 494.65,22.62 494.88,30.40 495.09,27.20 495.29,24.27 495.50,21.58 495.71,19.15 495.91,16.98 496.12,15.06 496.33,13.40 496.54,12.00 496.74,10.84 496.95,9.95 497.16,9.31 497.37,8.93 497.57,8.80 497.80,9.74 498.04,12.54 498.27,17.22 498.50,23.78 498.73,32.20 498.94,28.83 499.14,25.72 499.35,22.89 499.56,20.33 499.77,18.03 499.97,16.01 500.18,14.26 500.39,12.77 500.59,11.56 500.80,10.61 501.01,9.94 501.22,9.53 501.42,9.40 501.66,10.50 501.89,13.78 502.12,19.26 502.35,26.94 502.58,36.80 502.79,32.82 502.99,29.16 503.20,25.82 503.41,22.79 503.62,20.09 503.82,17.70 504.03,15.63 504.24,13.88 504.45,12.45 504.65,11.33 504.86,10.54 505.07,10.06 505.28,9.90 505.51,10.98 505.74,14.20 505.97,19.58 506.20,27.12 506.43,36.80 506.64,32.55 506.85,28.65 507.05,25.08 507.26,21.86 507.47,18.97 507.67,16.42 507.88,14.21 508.09,12.35 508.30,10.82 508.50,9.63 508.71,8.78 508.92,8.27 509.13,8.10 509.36,9.17 509.59,12.39 509.82,17.75 510.05,25.25 510.28,34.90 510.49,31.13 510.70,27.66 510.90,24.49 511.11,21.62 511.32,19.06 511.53,16.79 511.73,14.83 511.94,13.17 512.15,11.81 512.35,10.76 512.56,10.00 512.77,9.55 512.98,9.40 513.21,10.46 513.44,13.62 513.67,18.90 513.90,26.30 514.13,35.80 514.34,31.89 514.55,28.30 514.75,25.02 514.96,22.05 515.17,19.40 515.38,17.05 515.58,15.02 515.79,13.31 516.00,11.90 516.21,10.81 516.41,10.02 516.62,9.56 516.83,9.40 517.06,10.57 517.29,14.07 517.52,19.91 517.75,28.09 517.98,38.60 518.19,34.64 518.40,30.99 518.60,27.66 518.81,24.64 519.02,21.95 519.23,19.57 519.43,17.51 519.64,15.76 519.85,14.34 520.06,13.23 520.26,12.43 520.47,11.96 520.68,11.80 520.91,13.02 521.14,16.66 521.37,22.74 521.60,31.26 521.83,42.20 522.04,37.81 522.25,33.76 522.46,30.07 522.66,26.73 522.87,23.75 523.08,21.11 523.29,18.83 523.49,16.89 523.70,15.31 523.91,14.08 524.11,13.20 524.32,12.68 524.53,12.50 524.76,13.78 524.99,17.60 525.22,23.98 525.45,32.92 525.68,44.40 525.89,39.95 526.10,35.85 526.31,32.11 526.51,28.73 526.72,25.70 526.93,23.03 527.14,20.71 527.34,18.75 527.55,17.15 527.76,15.90 527.97,15.01 528.17,14.48 528.38,14.30 528.61,15.78 528.84,20.20 529.07,27.58 529.30,37.92 529.54,51.20 529.74,46.50 529.95,42.17 530.16,38.22 530.36,34.64 530.57,31.44 530.78,28.62 530.99,26.17 531.19,24.10 531.40,22.41 531.61,21.09 531.82,20.15 532.02,19.59 532.23,19.40 532.46,20.89 532.69,25.35 532.92,32.79 533.15,43.21 533.39,56.60 533.59,51.23 533.80,46.29 534.01,41.78 534.22,37.70 534.42,34.05 534.63,30.82 534.84,28.03 535.04,25.67 535.25,23.74 535.46,22.23 535.67,21.16 535.87,20.51 536.08,20.30 536.31,21.89 536.54,26.67 536.77,34.63 537.01,45.77 537.24,60.10 537.44,54.83 537.65,49.99 537.86,45.57 538.07,41.56 538.27,37.98 538.48,34.82 538.69,32.08 538.90,29.77 539.10,27.87 539.31,26.40 539.52,25.34 539.73,24.71 539.93,24.50 540.16,26.40 540.39,32.10 540.63,41.60 540.86,54.90 541.09,72.00 541.30,65.79 541.50,60.07 541.71,54.85 541.92,50.13 542.12,45.91 542.33,42.18 542.54,38.95 542.75,36.21 542.95,33.98 543.16,32.24 543.37,30.99 543.58,30.25 543.78,30.00 544.01,31.82 544.25,37.30 544.48,46.42 544.71,59.18 544.94,75.60 545.15,69.08 545.35,63.07 545.56,57.59 545.77,52.64 545.98,48.20 546.18,44.29 546.39,40.89 546.60,38.02 546.80,35.68 547.01,33.85 547.22,32.54 547.43,31.76 547.63,31.50 547.87,33.60 548.10,39.90 548.33,50.40 548.56,65.10 548.79,84.00 549.00,78.07 549.20,72.61 549.41,67.63 549.62,63.12 549.83,59.09 550.03,55.53 550.24,52.44 550.45,49.83 550.66,47.70 550.86,46.04 551.07,44.85 551.28,44.14 551.48,43.90 551.72,45.66 551.95,50.92 552.18,59.70 552.41,72.00 552.64,87.80 552.85,82.58 553.05,77.77 553.26,73.39 553.47,69.42 553.68,65.87 553.88,62.73 554.09,60.02 554.30,57.72 554.51,55.84 554.71,54.38 554.92,53.34 555.13,52.71 555.34,52.50 555.57,54.50 555.80,60.48 556.03,70.46 556.26,84.44 556.49,102.40 556.70,92.06 556.91,82.55 557.11,73.86 557.32,66.00 557.53,58.97 557.74,52.77 557.94,47.39 558.15,42.84 558.36,39.12 558.56,36.22 558.77,34.15 558.98,32.91 559.19,32.50 559.42,35.11 559.65,42.95 559.88,56.01 560.11,74.29 560.34,97.80 560.55,88.81 560.76,80.53 560.96,72.98 561.17,66.14 561.38,60.02 561.59,54.63 561.79,49.95 562.00,45.99 562.21,42.76 562.42,40.24 562.62,38.44 562.83,37.36 563.04,37.00 563.27,39.62 563.50,47.46 563.73,60.54 563.96,78.86 564.19,102.40 564.40,95.70 564.61,89.53 564.81,83.90 565.02,78.81 565.23,74.26 565.44,70.23 565.64,66.75 565.85,63.80 566.06,61.39 566.27,59.51 566.47,58.17 566.68,57.37 566.89,57.10 567.12,59.38 567.35,66.24 567.58,77.66 567.81,93.64 568.04,114.20 568.25,107.28 568.46,100.91 568.67,95.09 568.87,89.83 569.08,85.12 569.29,80.97 569.49,77.37 569.70,74.32 569.91,71.83 570.12,69.89 570.32,68.51 570.53,67.68 570.74,67.40 570.97,69.35 571.20,75.19 571.43,84.93 571.66,98.57 571.89,116.10 572.10,104.43 572.31,93.69 572.52,83.89 572.72,75.02 572.93,67.08 573.14,60.08 573.35,54.01 573.55,48.87 573.76,44.67 573.97,41.40 574.18,39.07 574.38,37.67 574.59,37.20 574.82,38.63 575.05,42.93 575.28,50.09 575.51,60.11 575.75,73.00 575.95,64.80 576.16,57.27 576.37,50.38 576.57,44.15 576.78,38.58 576.99,33.66 577.20,29.40 577.40,25.80 577.61,22.84 577.82,20.55 578.03,18.91 578.23,17.93 578.44,17.60 578.67,19.06 578.90,23.42 579.13,30.70 579.36,40.90 579.60,54.00 579.80,47.74 580.01,41.99 580.22,36.73 580.43,31.97 580.63,27.72 580.84,23.96 581.05,20.71 581.25,17.96 581.46,15.70 581.67,13.95 581.88,12.70 582.08,11.95 582.29,11.70 582.52,12.63 582.75,15.41 582.98,20.05 583.22,26.55 583.45,34.90 583.65,31.26 583.86,27.91 584.07,24.86 584.28,22.09 584.48,19.62 584.69,17.43 584.90,15.54 585.11,13.94 585.31,12.63 585.52,11.61 585.73,10.88 585.93,10.45 586.14,10.30 586.37,11.14 586.60,13.64 586.84,17.82 587.07,23.68 587.30,31.20 587.50,28.05 587.71,25.15 587.92,22.50 588.13,20.11 588.33,17.97 588.54,16.08 588.75,14.44 588.96,13.05 589.16,11.92 589.37,11.03 589.58,10.40 589.79,10.03 589.99,9.90 590.22,10.48 590.46,12.24 590.69,15.16 590.92,19.24 591.15,24.50 591.36,22.34 591.56,20.35 591.77,18.54 591.98,16.90 592.19,15.43 592.39,14.13 592.60,13.01 592.81,12.06 593.01,11.28 593.22,10.68 593.43,10.25 593.64,9.99 593.84,9.90 594.07,10.39 594.31,11.85 594.54,14.29 594.77,17.71 595.00,22.10 595.21,20.22 595.41,18.49 595.62,16.91 595.83,15.49 596.04,14.21 596.24,13.08 596.45,12.11 596.66,11.28 596.87,10.60 597.07,10.08 597.28,9.70 597.49,9.48 597.69,9.40 597.93,9.88 598.16,11.34 598.39,13.76 598.62,17.14 598.85,21.50 599.06,19.71 599.26,18.06 599.47,16.56 599.68,15.20 599.89,13.98 600.09,12.91 600.30,11.98 600.51,11.19 600.72,10.55 600.92,10.04 601.13,9.69 601.34,9.47 601.55,9.40 601.78,10.12 602.01,12.28 602.24,15.88 602.47,20.92 602.70,27.40 602.91,24.96 603.12,22.71 603.32,20.66 603.53,18.81 603.74,17.15 603.94,15.68 604.15,14.41 604.36,13.34 604.57,12.46 604.77,11.78 604.98,11.29 605.19,11.00 605.40,10.90 605.63,12.09 605.86,15.67 606.09,21.63 606.32,29.97 606.55,40.70 606.76,37.24 606.97,34.05 607.17,31.15 607.38,28.52 607.59,26.16 607.80,24.08 608.00,22.28 608.21,20.76 608.42,19.52 608.63,18.55 608.83,17.85 609.04,17.44 609.25,17.30 609.48,18.38 609.71,21.62 609.94,27.02 610.17,34.58 610.40,44.30 610.61,40.99 610.82,37.94 611.02,35.15 611.23,32.64 611.44,30.38 611.65,28.39 611.85,26.67 612.06,25.21 612.27,24.02 612.48,23.09 612.68,22.43 612.89,22.03 613.10,21.90 613.33,23.65 613.56,28.89 613.79,37.63 614.02,49.87 614.25,65.60 614.46,61.56 614.67,57.85 614.88,54.45 615.08,51.38 615.29,48.64 615.50,46.22 615.70,44.12 615.91,42.34 616.12,40.88 616.33,39.75 616.53,38.95 616.74,38.46 616.95,38.30 617.18,39.72 617.41,43.98 617.64,51.08 617.87,61.02 618.10,73.80 618.31,70.78 618.52,68.01 618.73,65.47 618.93,63.18 619.14,61.13 619.35,59.31 619.56,57.75 619.76,56.42 619.97,55.33 620.18,54.49 620.38,53.88 620.59,53.52 620.80,53.40 621.03,54.88 621.26,59.34 621.49,66.76 621.72,77.14 621.95,90.50 622.16,86.18 622.37,82.21 622.58,78.58 622.78,75.30 622.99,72.36 623.20,69.77 623.41,67.52 623.61,65.62 623.82,64.06 624.03,62.86 624.24,61.99 624.44,61.47 624.65,61.30 624.88,62.69 625.11,66.85 625.34,73.79 625.57,83.51 625.81,96.00 626.01,93.19 626.22,90.60 626.43,88.24 626.64,86.11 626.84,84.20 627.05,82.51 627.26,81.05 627.46,79.81 627.67,78.80 627.88,78.01 628.09,77.45 628.29,77.11 628.50,77.00 628.73,78.02 628.96,81.06 629.19,86.14 629.43,93.26 629.66,102.40 629.86,99.68 630.07,97.17 630.28,94.89 630.49,92.82 630.69,90.97 630.90,89.33 631.11,87.92 631.32,86.72 631.52,85.74 631.73,84.98 631.94,84.44 632.14,84.11 632.35,84.00 632.58,85.24 632.81,88.98 633.05,95.20 633.28,103.90 633.51,115.10 633.71,110.47 633.92,106.21 634.13,102.32 634.34,98.80 634.54,95.65 634.75,92.88 634.96,90.47 635.17,88.43 635.37,86.76 635.58,85.47 635.79,84.54 636.00,83.99 636.20,83.80 636.43,85.27 636.66,89.69 636.90,97.05 637.13,107.35 637.36,120.60 637.57,115.04 637.77,109.92 637.98,105.25 638.19,101.02 638.39,97.24 638.60,93.90 638.81,91.01 639.02,88.56 639.22,86.56 639.43,85.00 639.64,83.89 639.85,83.22 640.05,83.00 640.28,84.40 640.52,88.58 640.75,95.56 640.98,105.34 641.21,117.90 641.42,112.29 641.62,107.14 641.83,102.43 642.04,98.17 642.25,94.35 642.45,90.99 642.66,88.07 642.87,85.61 643.08,83.59 643.28,82.02 643.49,80.90 643.70,80.22 643.90,80.00 644.14,81.28 644.37,85.12 644.60,91.52 644.83,100.48 645.06,112.00 645.27,98.30 645.47,85.70 645.68,74.19 645.89,63.78 646.10,54.47 646.30,46.25 646.51,39.13 646.72,33.10 646.93,28.17 647.13,24.33 647.34,21.59 647.55,19.95 647.76,19.40 647.99,20.78 648.22,24.94 648.45,31.86 648.68,41.54 648.91,54.00 649.12,47.93 649.33,42.36 649.53,37.26 649.74,32.65 649.95,28.53 650.15,24.89 650.36,21.73 650.57,19.07 650.78,16.88 650.98,15.18 651.19,13.97 651.40,13.24 651.61,13.00 651.84,14.17 652.07,17.67 652.30,23.51 652.53,31.69 652.76,42.20 652.97,37.81 653.18,33.76 653.38,30.07 653.59,26.73 653.80,23.75 654.01,21.11 654.21,18.83 654.42,16.89 654.63,15.31 654.83,14.08 655.04,13.20 655.25,12.68 655.46,12.50 655.69,13.32 655.92,15.80 656.15,19.92 656.38,25.68 656.61,33.10 656.82,30.05 657.03,27.25 657.23,24.69 657.44,22.37 657.65,20.30 657.86,18.47 658.06,16.89 658.27,15.55 658.48,14.45 658.69,13.60 658.89,12.99 659.10,12.62 659.31,12.50 659.54,13.29 659.77,15.65 660.00,19.59 660.23,25.11 660.46,32.20 660.67,29.29 660.88,26.60 661.09,24.16 661.29,21.94 661.50,19.96 661.71,18.21 661.91,16.70 662.12,15.41 662.33,14.37 662.54,13.55 662.74,12.97 662.95,12.62 663.16,12.50 663.39,13.25 663.62,15.49 663.85,19.23 664.08,24.47 664.31,31.20 664.52,28.43 664.73,25.89 664.94,23.57 665.14,21.46 665.35,19.58 665.56,17.92 665.77,16.48 665.97,15.27 666.18,14.27 666.39,13.50 666.59,12.94 666.80,12.61 667.01,12.50 667.24,13.07 667.47,14.77 667.70,17.61 667.93,21.59 668.16,26.70 668.37,24.60 668.58,22.67 668.79,20.90 668.99,19.31 669.20,17.88 669.41,16.62 669.62,15.52 669.82,14.60 670.03,13.84 670.24,13.26 670.45,12.84 670.65,12.58 670.86,12.50 671.09,12.92 671.32,14.18 671.55,16.28 671.78,19.22 672.02,23.00 672.22,21.52 672.43,20.16 672.64,18.92 672.84,17.79 673.05,16.79 673.26,15.90 673.47,15.13 673.67,14.48 673.88,13.95 674.09,13.53 674.30,13.24 674.50,13.06 674.71,13.00 674.94,13.33 675.17,14.31 675.40,15.95 675.64,18.25 675.87,21.20 676.07,20.08 676.28,19.04 676.49,18.10 676.70,17.24 676.90,16.48 677.11,15.80 677.32,15.22 677.53,14.72 677.73,14.32 677.94,14.00 678.15,13.78 678.35,13.64 678.56,13.60 678.79,14.05 679.02,15.41 679.26,17.67 679.49,20.83 679.72,24.90 679.92,23.23 680.13,21.69 680.34,20.29 680.55,19.02 680.75,17.88 680.96,16.88 681.17,16.01" fill="none" stroke="#FF0000" stroke-width="1.1" stroke-linejoin="round" stroke-linecap="round" />
<rect x="22.40" y="3.00" width="213.05" height="130.80" fill="none" stroke="#9a9a9a" stroke-width="1.0"/>
<line x1="22.40" y1="133.80" x2="22.40" y2="131.80" stroke="#9a9a9a" stroke-width="0.8"/>
<line x1="22.40" y1="3.00" x2="22.40" y2="5.00" stroke="#9a9a9a" stroke-width="0.8"/>
<line x1="51.11" y1="133.80" x2="51.11" y2="131.80" stroke="#9a9a9a" stroke-width="0.8"/>
<line x1="51.11" y1="3.00" x2="51.11" y2="5.00" stroke="#9a9a9a" stroke-width="0.8"/>
<line x1="79.81" y1="133.80" x2="79.81" y2="131.80" stroke="#9a9a9a" stroke-width="0.8"/>
<line x1="79.81" y1="3.00" x2="79.81" y2="5.00" stroke="#9a9a9a" stroke-width="0.8"/>
<line x1="108.52" y1="133.80" x2="108.52" y2="131.80" stroke="#9a9a9a" stroke-width="0.8"/>
<line x1="108.52" y1="3.00" x2="108.52" y2="5.00" stroke="#9a9a9a" stroke-width="0.8"/>
<line x1="137.23" y1="133.80" x2="137.23" y2="131.80" stroke="#9a9a9a" stroke-width="0.8"/>
<line x1="137.23" y1="3.00" x2="137.23" y2="5.00" stroke="#9a9a9a" stroke-width="0.8"/>
<line x1="165.94" y1="133.80" x2="165.94" y2="131.80" stroke="#9a9a9a" stroke-width="0.8"/>
<line x1="165.94" y1="3.00" x2="165.94" y2="5.00" stroke="#9a9a9a" stroke-width="0.8"/>
<line x1="194.64" y1="133.80" x2="194.64" y2="131.80" stroke="#9a9a9a" stroke-width="0.8"/>
<line x1="194.64" y1="3.00" x2="194.64" y2="5.00" stroke="#9a9a9a" stroke-width="0.8"/>
<line x1="223.35" y1="133.80" x2="223.35" y2="131.80" stroke="#9a9a9a" stroke-width="0.8"/>
<line x1="223.35" y1="3.00" x2="223.35" y2="5.00" stroke="#9a9a9a" stroke-width="0.8"/>
<line x1="22.40" y1="3.00" x2="24.40" y2="3.00" stroke="#9a9a9a" stroke-width="0.8"/>
<line x1="235.45" y1="3.00" x2="233.45" y2="3.00" stroke="#9a9a9a" stroke-width="0.8"/>
<line x1="22.40" y1="24.80" x2="24.40" y2="24.80" stroke="#9a9a9a" stroke-width="0.8"/>
<line x1="235.45" y1="24.80" x2="233.45" y2="24.80" stroke="#9a9a9a" stroke-width="0.8"/>
<line x1="22.40" y1="46.60" x2="24.40" y2="46.60" stroke="#9a9a9a" stroke-width="0.8"/>
<line x1="235.45" y1="46.60" x2="233.45" y2="46.60" stroke="#9a9a9a" stroke-width="0.8"/>
<line x1="22.40" y1="68.40" x2="24.40" y2="68.40" stroke="#9a9a9a" stroke-width="0.8"/>
<line x1="235.45" y1="68.40" x2="233.45" y2="68.40" stroke="#9a9a9a" stroke-width="0.8"/>
<line x1="22.40" y1="90.20" x2="24.40" y2="90.20" stroke="#9a9a9a" stroke-width="0.8"/>
<line x1="235.45" y1="90.20" x2="233.45" y2="90.20" stroke="#9a9a9a" stroke-width="0.8"/>
<line x1="22.40" y1="112.00" x2="24.40" y2="112.00" stroke="#9a9a9a" stroke-width="0.8"/>
<line x1="235.45" y1="112.00" x2="233.45" y2="112.00" stroke="#9a9a9a" stroke-width="0.8"/>
<line x1="22.40" y1="133.80" x2="24.40" y2="133.80" stroke="#9a9a9a" stroke-width="0.8"/>
<line x1="235.45" y1="133.80" x2="233.45" y2="133.80" stroke="#9a9a9a" stroke-width="0.8"/>
<text transform="translate(19.80 5.10) scale(0.97 1)" font-size="6.1" text-anchor="end" font-weight="bold" fill="#222222" >0</text>
<text transform="translate(19.80 26.99) scale(0.97 1)" font-size="6.1" text-anchor="end" font-weight="bold" fill="#222222" >-0.2</text>
<text transform="translate(19.80 48.88) scale(0.97 1)" font-size="6.1" text-anchor="end" font-weight="bold" fill="#222222" >-0.4</text>
<text transform="translate(19.80 70.78) scale(0.97 1)" font-size="6.1" text-anchor="end" font-weight="bold" fill="#222222" >-0.6</text>
<text transform="translate(19.80 92.67) scale(0.97 1)" font-size="6.1" text-anchor="end" font-weight="bold" fill="#222222" >-0.8</text>
<text transform="translate(19.80 114.56) scale(0.97 1)" font-size="6.1" text-anchor="end" font-weight="bold" fill="#222222" >-1</text>
<text transform="translate(19.80 136.45) scale(0.97 1)" font-size="6.1" text-anchor="end" font-weight="bold" fill="#222222" >-1.2</text>
<text transform="translate(22.40 142.70) scale(0.97 1)" font-size="6.1" text-anchor="middle" font-weight="bold" fill="#222222" >Aug 02</text>
<text transform="translate(51.11 142.70) scale(0.97 1)" font-size="6.1" text-anchor="middle" font-weight="bold" fill="#222222" >Aug 09</text>
<text transform="translate(79.81 142.70) scale(0.97 1)" font-size="6.1" text-anchor="middle" font-weight="bold" fill="#222222" >Aug 16</text>
<text transform="translate(108.52 142.70) scale(0.97 1)" font-size="6.1" text-anchor="middle" font-weight="bold" fill="#222222" >Aug 23</text>
<text transform="translate(137.23 142.70) scale(0.97 1)" font-size="6.1" text-anchor="middle" font-weight="bold" fill="#222222" >Aug 30</text>
<text transform="translate(165.94 142.70) scale(0.97 1)" font-size="6.1" text-anchor="middle" font-weight="bold" fill="#222222" >Sep 06</text>
<text transform="translate(194.64 142.70) scale(0.97 1)" font-size="6.1" text-anchor="middle" font-weight="bold" fill="#222222" >Sep 13</text>
<text transform="translate(223.35 142.70) scale(0.97 1)" font-size="6.1" text-anchor="middle" font-weight="bold" fill="#222222" >Sep 20</text>
<text transform="translate(223.35 151.30) scale(0.97 1)" font-size="6.1" text-anchor="middle" font-weight="bold" fill="#222222" >2023</text>
<rect x="259.35" y="3.90" width="196.05" height="130.35" fill="none" stroke="#9a9a9a" stroke-width="1.0"/>
<line x1="259.35" y1="134.25" x2="259.35" y2="132.25" stroke="#9a9a9a" stroke-width="0.8"/>
<line x1="259.35" y1="3.90" x2="259.35" y2="5.90" stroke="#9a9a9a" stroke-width="0.8"/>
<line x1="285.77" y1="134.25" x2="285.77" y2="132.25" stroke="#9a9a9a" stroke-width="0.8"/>
<line x1="285.77" y1="3.90" x2="285.77" y2="5.90" stroke="#9a9a9a" stroke-width="0.8"/>
<line x1="312.18" y1="134.25" x2="312.18" y2="132.25" stroke="#9a9a9a" stroke-width="0.8"/>
<line x1="312.18" y1="3.90" x2="312.18" y2="5.90" stroke="#9a9a9a" stroke-width="0.8"/>
<line x1="338.60" y1="134.25" x2="338.60" y2="132.25" stroke="#9a9a9a" stroke-width="0.8"/>
<line x1="338.60" y1="3.90" x2="338.60" y2="5.90" stroke="#9a9a9a" stroke-width="0.8"/>
<line x1="365.02" y1="134.25" x2="365.02" y2="132.25" stroke="#9a9a9a" stroke-width="0.8"/>
<line x1="365.02" y1="3.90" x2="365.02" y2="5.90" stroke="#9a9a9a" stroke-width="0.8"/>
<line x1="391.43" y1="134.25" x2="391.43" y2="132.25" stroke="#9a9a9a" stroke-width="0.8"/>
<line x1="391.43" y1="3.90" x2="391.43" y2="5.90" stroke="#9a9a9a" stroke-width="0.8"/>
<line x1="417.85" y1="134.25" x2="417.85" y2="132.25" stroke="#9a9a9a" stroke-width="0.8"/>
<line x1="417.85" y1="3.90" x2="417.85" y2="5.90" stroke="#9a9a9a" stroke-width="0.8"/>
<line x1="444.27" y1="134.25" x2="444.27" y2="132.25" stroke="#9a9a9a" stroke-width="0.8"/>
<line x1="444.27" y1="3.90" x2="444.27" y2="5.90" stroke="#9a9a9a" stroke-width="0.8"/>
<line x1="259.35" y1="3.90" x2="261.35" y2="3.90" stroke="#9a9a9a" stroke-width="0.8"/>
<line x1="455.40" y1="3.90" x2="453.40" y2="3.90" stroke="#9a9a9a" stroke-width="0.8"/>
<line x1="259.35" y1="25.62" x2="261.35" y2="25.62" stroke="#9a9a9a" stroke-width="0.8"/>
<line x1="455.40" y1="25.62" x2="453.40" y2="25.62" stroke="#9a9a9a" stroke-width="0.8"/>
<line x1="259.35" y1="47.35" x2="261.35" y2="47.35" stroke="#9a9a9a" stroke-width="0.8"/>
<line x1="455.40" y1="47.35" x2="453.40" y2="47.35" stroke="#9a9a9a" stroke-width="0.8"/>
<line x1="259.35" y1="69.08" x2="261.35" y2="69.08" stroke="#9a9a9a" stroke-width="0.8"/>
<line x1="455.40" y1="69.08" x2="453.40" y2="69.08" stroke="#9a9a9a" stroke-width="0.8"/>
<line x1="259.35" y1="90.80" x2="261.35" y2="90.80" stroke="#9a9a9a" stroke-width="0.8"/>
<line x1="455.40" y1="90.80" x2="453.40" y2="90.80" stroke="#9a9a9a" stroke-width="0.8"/>
<line x1="259.35" y1="112.53" x2="261.35" y2="112.53" stroke="#9a9a9a" stroke-width="0.8"/>
<line x1="455.40" y1="112.53" x2="453.40" y2="112.53" stroke="#9a9a9a" stroke-width="0.8"/>
<line x1="259.35" y1="134.25" x2="261.35" y2="134.25" stroke="#9a9a9a" stroke-width="0.8"/>
<line x1="455.40" y1="134.25" x2="453.40" y2="134.25" stroke="#9a9a9a" stroke-width="0.8"/>
<text transform="translate(256.75 6.00) scale(0.97 1)" font-size="6.1" text-anchor="end" font-weight="bold" fill="#222222" >0</text>
<text transform="translate(256.75 27.82) scale(0.97 1)" font-size="6.1" text-anchor="end" font-weight="bold" fill="#222222" >-0.2</text>
<text transform="translate(256.75 49.63) scale(0.97 1)" font-size="6.1" text-anchor="end" font-weight="bold" fill="#222222" >-0.4</text>
<text transform="translate(256.75 71.45) scale(0.97 1)" font-size="6.1" text-anchor="end" font-weight="bold" fill="#222222" >-0.6</text>
<text transform="translate(256.75 93.27) scale(0.97 1)" font-size="6.1" text-anchor="end" font-weight="bold" fill="#222222" >-0.8</text>
<text transform="translate(256.75 115.08) scale(0.97 1)" font-size="6.1" text-anchor="end" font-weight="bold" fill="#222222" >-1</text>
<text transform="translate(256.75 136.90) scale(0.97 1)" font-size="6.1" text-anchor="end" font-weight="bold" fill="#222222" >-1.2</text>
<text transform="translate(259.35 142.70) scale(0.97 1)" font-size="6.1" text-anchor="middle" font-weight="bold" fill="#222222" >Aug 02</text>
<text transform="translate(285.77 142.70) scale(0.97 1)" font-size="6.1" text-anchor="middle" font-weight="bold" fill="#222222" >Aug 09</text>
<text transform="translate(312.18 142.70) scale(0.97 1)" font-size="6.1" text-anchor="middle" font-weight="bold" fill="#222222" >Aug 16</text>
<text transform="translate(338.60 142.70) scale(0.97 1)" font-size="6.1" text-anchor="middle" font-weight="bold" fill="#222222" >Aug 23</text>
<text transform="translate(365.02 142.70) scale(0.97 1)" font-size="6.1" text-anchor="middle" font-weight="bold" fill="#222222" >Aug 30</text>
<text transform="translate(391.43 142.70) scale(0.97 1)" font-size="6.1" text-anchor="middle" font-weight="bold" fill="#222222" >Sep 06</text>
<text transform="translate(417.85 142.70) scale(0.97 1)" font-size="6.1" text-anchor="middle" font-weight="bold" fill="#222222" >Sep 13</text>
<text transform="translate(444.27 142.70) scale(0.97 1)" font-size="6.1" text-anchor="middle" font-weight="bold" fill="#222222" >Sep 20</text>
<text transform="translate(444.27 151.30) scale(0.97 1)" font-size="6.1" text-anchor="middle" font-weight="bold" fill="#222222" >2023</text>
<rect x="481.40" y="3.95" width="200.05" height="130.45" fill="none" stroke="#9a9a9a" stroke-width="1.0"/>
<line x1="481.40" y1="134.40" x2="481.40" y2="132.40" stroke="#9a9a9a" stroke-width="0.8"/>
<line x1="481.40" y1="3.95" x2="481.40" y2="5.95" stroke="#9a9a9a" stroke-width="0.8"/>
<line x1="508.36" y1="134.40" x2="508.36" y2="132.40" stroke="#9a9a9a" stroke-width="0.8"/>
<line x1="508.36" y1="3.95" x2="508.36" y2="5.95" stroke="#9a9a9a" stroke-width="0.8"/>
<line x1="535.31" y1="134.40" x2="535.31" y2="132.40" stroke="#9a9a9a" stroke-width="0.8"/>
<line x1="535.31" y1="3.95" x2="535.31" y2="5.95" stroke="#9a9a9a" stroke-width="0.8"/>
<line x1="562.27" y1="134.40" x2="562.27" y2="132.40" stroke="#9a9a9a" stroke-width="0.8"/>
<line x1="562.27" y1="3.95" x2="562.27" y2="5.95" stroke="#9a9a9a" stroke-width="0.8"/>
<line x1="589.22" y1="134.40" x2="589.22" y2="132.40" stroke="#9a9a9a" stroke-width="0.8"/>
<line x1="589.22" y1="3.95" x2="589.22" y2="5.95" stroke="#9a9a9a" stroke-width="0.8"/>
<line x1="616.18" y1="134.40" x2="616.18" y2="132.40" stroke="#9a9a9a" stroke-width="0.8"/>
<line x1="616.18" y1="3.95" x2="616.18" y2="5.95" stroke="#9a9a9a" stroke-width="0.8"/>
<line x1="643.13" y1="134.40" x2="643.13" y2="132.40" stroke="#9a9a9a" stroke-width="0.8"/>
<line x1="643.13" y1="3.95" x2="643.13" y2="5.95" stroke="#9a9a9a" stroke-width="0.8"/>
<line x1="670.09" y1="134.40" x2="670.09" y2="132.40" stroke="#9a9a9a" stroke-width="0.8"/>
<line x1="670.09" y1="3.95" x2="670.09" y2="5.95" stroke="#9a9a9a" stroke-width="0.8"/>
<line x1="481.40" y1="3.95" x2="483.40" y2="3.95" stroke="#9a9a9a" stroke-width="0.8"/>
<line x1="681.45" y1="3.95" x2="679.45" y2="3.95" stroke="#9a9a9a" stroke-width="0.8"/>
<line x1="481.40" y1="25.69" x2="483.40" y2="25.69" stroke="#9a9a9a" stroke-width="0.8"/>
<line x1="681.45" y1="25.69" x2="679.45" y2="25.69" stroke="#9a9a9a" stroke-width="0.8"/>
<line x1="481.40" y1="47.43" x2="483.40" y2="47.43" stroke="#9a9a9a" stroke-width="0.8"/>
<line x1="681.45" y1="47.43" x2="679.45" y2="47.43" stroke="#9a9a9a" stroke-width="0.8"/>
<line x1="481.40" y1="69.18" x2="483.40" y2="69.18" stroke="#9a9a9a" stroke-width="0.8"/>
<line x1="681.45" y1="69.18" x2="679.45" y2="69.18" stroke="#9a9a9a" stroke-width="0.8"/>
<line x1="481.40" y1="90.92" x2="483.40" y2="90.92" stroke="#9a9a9a" stroke-width="0.8"/>
<line x1="681.45" y1="90.92" x2="679.45" y2="90.92" stroke="#9a9a9a" stroke-width="0.8"/>
<line x1="481.40" y1="112.66" x2="483.40" y2="112.66" stroke="#9a9a9a" stroke-width="0.8"/>
<line x1="681.45" y1="112.66" x2="679.45" y2="112.66" stroke="#9a9a9a" stroke-width="0.8"/>
<line x1="481.40" y1="134.40" x2="483.40" y2="134.40" stroke="#9a9a9a" stroke-width="0.8"/>
<line x1="681.45" y1="134.40" x2="679.45" y2="134.40" stroke="#9a9a9a" stroke-width="0.8"/>
<text transform="translate(478.80 6.05) scale(0.97 1)" font-size="6.1" text-anchor="end" font-weight="bold" fill="#222222" >0</text>
<text transform="translate(478.80 27.88) scale(0.97 1)" font-size="6.1" text-anchor="end" font-weight="bold" fill="#222222" >-0.2</text>
<text transform="translate(478.80 49.72) scale(0.97 1)" font-size="6.1" text-anchor="end" font-weight="bold" fill="#222222" >-0.4</text>
<text transform="translate(478.80 71.55) scale(0.97 1)" font-size="6.1" text-anchor="end" font-weight="bold" fill="#222222" >-0.6</text>
<text transform="translate(478.80 93.38) scale(0.97 1)" font-size="6.1" text-anchor="end" font-weight="bold" fill="#222222" >-0.8</text>
<text transform="translate(478.80 115.22) scale(0.97 1)" font-size="6.1" text-anchor="end" font-weight="bold" fill="#222222" >-1</text>
<text transform="translate(478.80 137.05) scale(0.97 1)" font-size="6.1" text-anchor="end" font-weight="bold" fill="#222222" >-1.2</text>
<text transform="translate(481.40 142.70) scale(0.97 1)" font-size="6.1" text-anchor="middle" font-weight="bold" fill="#222222" >Aug 02</text>
<text transform="translate(508.36 142.70) scale(0.97 1)" font-size="6.1" text-anchor="middle" font-weight="bold" fill="#222222" >Aug 09</text>
<text transform="translate(535.31 142.70) scale(0.97 1)" font-size="6.1" text-anchor="middle" font-weight="bold" fill="#222222" >Aug 16</text>
<text transform="translate(562.27 142.70) scale(0.97 1)" font-size="6.1" text-anchor="middle" font-weight="bold" fill="#222222" >Aug 23</text>
<text transform="translate(589.22 142.70) scale(0.97 1)" font-size="6.1" text-anchor="middle" font-weight="bold" fill="#222222" >Aug 30</text>
<text transform="translate(616.18 142.70) scale(0.97 1)" font-size="6.1" text-anchor="middle" font-weight="bold" fill="#222222" >Sep 06</text>
<text transform="translate(643.13 142.70) scale(0.97 1)" font-size="6.1" text-anchor="middle" font-weight="bold" fill="#222222" >Sep 13</text>
<text transform="translate(670.09 142.70) scale(0.97 1)" font-size="6.1" text-anchor="middle" font-weight="bold" fill="#222222" >Sep 20</text>
<text transform="translate(670.09 151.30) scale(0.97 1)" font-size="6.1" text-anchor="middle" font-weight="bold" fill="#222222" >2023</text>
<text x="7.90" y="11.20" font-size="6.9" text-anchor="middle" font-weight="bold" fill="#222222" >a</text>
<text x="247.10" y="10.00" font-size="6.9" text-anchor="middle" font-weight="bold" fill="#222222" >b</text>
<text x="466.00" y="10.90" font-size="6.9" text-anchor="middle" font-weight="bold" fill="#222222" >c</text>
<text x="7.40" y="68.20" font-size="6.8" text-anchor="middle" font-weight="bold" fill="#222222" transform="rotate(-90 7.4 68.2)">TWP (MPa)</text>
<line x1="50.50" y1="162.60" x2="50.50" y2="283.05" stroke="#ebebeb" stroke-width="1"/>
<line x1="78.50" y1="162.60" x2="78.50" y2="283.05" stroke="#ebebeb" stroke-width="1"/>
<line x1="107.50" y1="162.60" x2="107.50" y2="283.05" stroke="#ebebeb" stroke-width="1"/>
<line x1="136.50" y1="162.60" x2="136.50" y2="283.05" stroke="#ebebeb" stroke-width="1"/>
<line x1="165.50" y1="162.60" x2="165.50" y2="283.05" stroke="#ebebeb" stroke-width="1"/>
<line x1="193.50" y1="162.60" x2="193.50" y2="283.05" stroke="#ebebeb" stroke-width="1"/>
<line x1="222.50" y1="162.60" x2="222.50" y2="283.05" stroke="#ebebeb" stroke-width="1"/>
<line x1="21.45" y1="186.50" x2="234.55" y2="186.50" stroke="#ebebeb" stroke-width="1"/>
<line x1="21.45" y1="210.50" x2="234.55" y2="210.50" stroke="#ebebeb" stroke-width="1"/>
<line x1="21.45" y1="234.50" x2="234.55" y2="234.50" stroke="#ebebeb" stroke-width="1"/>
<line x1="21.45" y1="258.50" x2="234.55" y2="258.50" stroke="#ebebeb" stroke-width="1"/>
<line x1="288.50" y1="162.55" x2="288.50" y2="283.50" stroke="#ebebeb" stroke-width="1"/>
<line x1="314.50" y1="162.55" x2="314.50" y2="283.50" stroke="#ebebeb" stroke-width="1"/>
<line x1="341.50" y1="162.55" x2="341.50" y2="283.50" stroke="#ebebeb" stroke-width="1"/>
<line x1="367.50" y1="162.55" x2="367.50" y2="283.50" stroke="#ebebeb" stroke-width="1"/>
<line x1="394.50" y1="162.55" x2="394.50" y2="283.50" stroke="#ebebeb" stroke-width="1"/>
<line x1="420.50" y1="162.55" x2="420.50" y2="283.50" stroke="#ebebeb" stroke-width="1"/>
<line x1="447.50" y1="162.55" x2="447.50" y2="283.50" stroke="#ebebeb" stroke-width="1"/>
<line x1="261.60" y1="186.50" x2="458.60" y2="186.50" stroke="#ebebeb" stroke-width="1"/>
<line x1="261.60" y1="210.50" x2="458.60" y2="210.50" stroke="#ebebeb" stroke-width="1"/>
<line x1="261.60" y1="235.50" x2="458.60" y2="235.50" stroke="#ebebeb" stroke-width="1"/>
<line x1="261.60" y1="259.50" x2="458.60" y2="259.50" stroke="#ebebeb" stroke-width="1"/>
<line x1="510.50" y1="162.80" x2="510.50" y2="283.70" stroke="#ebebeb" stroke-width="1"/>
<line x1="537.50" y1="162.80" x2="537.50" y2="283.70" stroke="#ebebeb" stroke-width="1"/>
<line x1="564.50" y1="162.80" x2="564.50" y2="283.70" stroke="#ebebeb" stroke-width="1"/>
<line x1="590.50" y1="162.80" x2="590.50" y2="283.70" stroke="#ebebeb" stroke-width="1"/>
<line x1="617.50" y1="162.80" x2="617.50" y2="283.70" stroke="#ebebeb" stroke-width="1"/>
<line x1="643.50" y1="162.80" x2="643.50" y2="283.70" stroke="#ebebeb" stroke-width="1"/>
<line x1="670.50" y1="162.80" x2="670.50" y2="283.70" stroke="#ebebeb" stroke-width="1"/>
<line x1="484.40" y1="186.50" x2="681.60" y2="186.50" stroke="#ebebeb" stroke-width="1"/>
<line x1="484.40" y1="211.50" x2="681.60" y2="211.50" stroke="#ebebeb" stroke-width="1"/>
<line x1="484.40" y1="235.50" x2="681.60" y2="235.50" stroke="#ebebeb" stroke-width="1"/>
<line x1="484.40" y1="259.50" x2="681.60" y2="259.50" stroke="#ebebeb" stroke-width="1"/>
<polyline points="21.80,181.00 35.00,182.80 45.30,184.30 50.90,183.60 65.00,185.50 82.20,187.60 100.00,189.50 128.00,192.30 152.80,191.80 165.00,192.80 170.80,193.40 180.60,193.40 190.40,191.30 208.40,188.50 234.50,188.20" fill="none" stroke="#4646cc" stroke-width="0.85" stroke-linejoin="round" stroke-linecap="round" />
<polyline points="21.45,165.30 21.80,170.16 22.15,168.60 22.50,167.05 22.85,166.85 23.20,167.20 23.55,167.94 23.90,168.84 24.25,169.21 24.60,169.37 24.95,169.52 25.30,169.68 25.65,169.83 26.00,169.99 26.35,170.16 26.70,170.32 27.05,170.48 27.40,170.70 27.75,171.05 28.10,171.40 28.45,171.75 28.80,172.10 29.15,172.45 29.50,172.80 29.85,172.67 30.20,172.55 30.55,172.42 30.90,169.65 31.25,168.64 31.60,169.18 31.95,169.88 32.30,170.29 32.65,170.28 33.00,169.81 33.35,169.08 33.70,168.21 34.05,167.31 34.40,166.80 34.75,166.79 35.10,167.27 35.45,168.10 35.80,169.05 36.15,169.84 36.50,170.25 36.85,170.16 37.20,169.59 37.55,168.69 37.90,167.70 38.25,166.90 38.60,166.51 38.95,166.63 39.30,167.22 39.65,168.11 40.00,169.05 40.35,169.75 40.70,170.03 41.05,169.79 41.40,169.10 41.75,168.14 42.10,167.42 42.45,166.88 42.80,166.69 43.15,166.88 43.50,167.40 43.85,168.09 44.20,168.75 44.55,169.20 44.90,169.29 45.25,169.01 45.60,168.41 45.95,167.67 46.30,167.00 46.65,166.57 47.00,166.48 47.35,166.77 47.70,167.33 48.05,167.90 48.40,168.25 48.75,168.46 49.10,168.44 49.45,168.20 49.80,167.81 50.15,167.37 50.50,166.71 50.85,166.42 51.20,166.47 51.55,166.84 51.90,167.43 52.25,168.08 52.60,168.61 52.95,168.87 53.30,168.79 53.65,168.39 54.00,167.79 54.35,167.29 54.70,166.92 55.05,166.77 55.40,166.88 55.75,167.23 56.10,167.70 56.45,168.19 56.80,168.54 57.15,168.67 57.50,168.54 57.85,168.19 58.20,167.71 58.55,167.26 58.90,166.95 59.25,166.87 59.60,167.05 59.95,167.44 60.30,167.93 60.65,168.38 61.00,168.68 61.35,168.73 61.70,168.53 62.05,168.14 62.40,167.66 62.75,166.98 63.10,166.62 63.45,166.61 63.80,166.95 64.15,167.56 64.50,168.25 64.85,168.84 65.20,169.17 65.55,169.14 65.90,168.77 66.25,168.16 66.60,167.57 66.95,167.13 67.30,166.92 67.65,167.00 68.00,167.34 68.35,167.86 68.70,168.41 69.05,168.83 69.40,169.02 69.75,168.92 70.10,168.56 70.45,168.06 70.80,167.46 71.15,167.02 71.50,166.88 71.85,167.07 72.20,167.56 72.55,168.22 72.90,168.85 73.25,169.30 73.60,169.44 73.95,169.24 74.30,168.76 74.65,168.14 75.00,167.68 75.35,167.37 75.70,167.33 76.05,167.58 76.40,168.05 76.75,168.62 77.10,169.14 77.45,169.46 77.80,169.50 78.15,169.36 78.50,169.15 78.85,168.86 79.20,168.59 79.55,168.57 79.90,168.86 80.25,169.44 80.60,170.24 80.95,171.09 81.30,171.84 81.65,172.34 82.00,172.54 82.35,172.37 82.70,172.01 83.05,171.72 83.40,171.55 83.75,171.59 84.10,171.66 84.45,171.43 84.80,171.32 85.15,171.23 85.50,171.03 85.85,170.61 86.20,170.23 86.55,169.85 86.90,169.35 87.25,168.73 87.60,168.29 87.95,168.13 88.30,168.28 88.65,168.68 89.00,169.22 89.35,169.73 89.70,170.04 90.05,170.07 90.40,169.78 90.75,169.25 91.10,168.61 91.45,167.96 91.80,167.55 92.15,167.48 92.50,167.74 92.85,168.25 93.20,168.86 93.55,169.38 93.90,169.65 94.25,169.58 94.60,169.18 94.95,168.55 95.30,167.95 95.65,167.49 96.00,167.25 96.35,167.31 96.70,167.65 97.05,168.17 97.40,168.72 97.75,169.16 98.10,169.36 98.45,169.26 98.80,168.89 99.15,168.35 99.50,167.75 99.85,167.30 100.20,167.13 100.55,167.29 100.90,167.73 101.25,168.33 101.60,168.92 101.95,169.34 102.30,169.47 102.65,169.27 103.00,168.80 103.35,168.18 103.70,167.63 104.05,167.25 104.40,167.17 104.75,167.41 105.10,167.90 105.45,168.50 105.80,169.04 106.15,169.38 106.50,169.41 106.85,169.13 107.20,168.62 107.55,168.02 107.90,167.71 108.25,167.49 108.60,167.50 108.95,167.73 109.30,168.12 109.65,168.57 110.00,168.93 110.35,169.12 110.70,169.07 111.05,168.81 111.40,168.40 111.75,167.83 112.10,167.34 112.45,167.11 112.80,167.21 113.15,167.62 113.50,168.20 113.85,168.81 114.20,169.27 114.55,169.45 114.90,169.30 115.25,168.85 115.60,168.25 115.95,167.69 116.30,167.29 116.65,167.16 117.00,167.34 117.35,167.78 117.70,168.35 118.05,168.89 118.40,169.25 118.75,169.33 119.10,169.10 119.45,168.64 119.80,168.06 120.15,167.62 120.50,167.33 120.85,167.30 121.20,167.52 121.55,167.94 121.90,168.45 122.25,168.88 122.60,169.13 122.95,169.13 123.30,168.87 123.65,168.42 124.00,167.91 124.35,167.59 124.70,167.40 125.05,167.43 125.40,167.66 125.75,168.04 126.10,168.45 126.45,168.78 126.80,168.92 127.15,168.84 127.50,168.54 127.85,168.12 128.20,167.49 128.55,166.99 128.90,166.77 129.25,166.91 129.60,167.34 129.95,167.96 130.30,168.57 130.65,169.00 131.00,169.13 131.35,168.92 131.70,168.41 132.05,167.75 132.40,167.23 132.75,166.87 133.10,166.77 133.45,166.95 133.80,167.37 134.15,167.90 134.50,168.38 134.85,168.68 135.20,168.71 135.55,168.45 135.90,167.97 136.25,167.40 136.60,166.82 136.95,166.49 137.30,166.50 137.65,166.84 138.00,167.40 138.35,168.04 138.70,168.58 139.05,168.88 139.40,168.86 139.75,168.53 140.10,168.00 140.45,167.38 140.80,166.88 141.15,166.66 141.50,166.78 141.85,167.22 142.20,167.86 142.55,168.53 142.90,169.04 143.25,169.27 143.60,169.15 143.95,168.72 144.30,168.12 144.65,167.55 145.00,167.14 145.35,167.02 145.70,167.23 146.05,167.70 146.40,168.33 146.75,168.93 147.10,169.35 147.45,169.47 147.80,169.28 148.15,168.82 148.50,168.23 148.85,167.63 149.20,167.26 149.55,167.23 149.90,167.54 150.25,168.17 150.60,168.92 150.95,169.60 151.30,170.04 151.65,170.13 152.00,169.89 152.35,169.39 152.70,168.81 153.05,168.53 153.40,168.37 153.75,168.49 154.10,168.88 154.45,169.44 154.80,170.06 155.15,170.57 155.50,170.86 155.85,170.88 156.20,170.64 156.55,170.23 156.90,169.71 157.25,169.32 157.60,169.20 157.95,169.42 158.30,169.91 158.65,170.57 159.00,171.24 159.35,171.74 159.70,171.94 160.05,171.81 160.40,171.40 160.75,170.83 161.10,170.37 161.45,170.07 161.80,170.02 162.15,170.27 162.50,170.74 162.85,171.33 163.20,171.88 163.55,172.25 163.90,172.35 164.25,172.17 164.60,171.77 164.95,171.28 165.30,170.66 165.65,170.33 166.00,170.34 166.35,170.69 166.70,171.30 167.05,171.99 167.40,172.59 167.75,172.93 168.10,172.92 168.45,172.57 168.80,171.99 169.15,171.36 169.50,170.85 169.85,170.61 170.20,170.72 170.55,171.15 170.90,171.78 171.25,172.46 171.60,172.98 171.95,173.22 172.30,173.12 172.65,172.70 173.00,172.10 173.35,171.67 173.70,171.38 174.05,171.28 174.40,171.43 174.75,171.78 175.10,172.24 175.45,172.69 175.80,173.01 176.15,173.11 176.50,172.98 176.85,172.65 177.20,172.22 177.55,171.82 177.90,171.56 178.25,171.53 178.60,171.74 178.95,172.14 179.30,172.61 179.65,173.05 180.00,173.31 180.35,173.35 180.70,173.15 181.05,172.77 181.40,172.33 181.75,171.93 182.10,171.66 182.45,171.46 182.80,171.52 183.15,171.74 183.50,172.01 183.85,172.19 184.20,172.18 184.55,171.91 184.90,171.41 185.25,170.88 185.60,170.22 185.95,169.66 186.30,169.39 186.65,169.48 187.00,169.90 187.35,170.51 187.70,171.14 188.05,171.60 188.40,171.74 188.75,171.53 189.10,171.01 189.45,170.31 189.80,169.77 190.15,169.37 190.50,169.23 190.85,169.38 191.20,169.76 191.55,170.26 191.90,170.72 192.25,171.02 192.60,171.05 192.95,170.79 193.30,170.32 193.65,169.75 194.00,169.17 194.35,168.81 194.70,168.74 195.05,169.38 195.40,169.49 195.75,169.64 196.10,169.76 196.45,169.76 196.80,169.61 197.15,169.31 197.50,168.91 197.85,168.50 198.20,168.16 198.55,167.91 198.90,167.80 199.25,167.81 199.60,167.90 199.95,168.01 200.30,168.07 200.65,168.01 201.00,167.83 201.35,167.52 201.70,167.14 202.05,166.73 202.40,166.39 202.75,166.17 203.10,166.14 203.45,166.32 203.80,166.57 204.15,166.81 204.50,166.98 204.85,167.02 205.20,166.91 205.55,166.67 205.90,166.38 206.25,166.12 206.60,165.93 206.95,165.88 207.30,165.96 207.65,166.15 208.00,166.39 208.35,166.61 208.70,166.74 209.05,166.73 209.40,166.59 209.75,166.35 210.10,166.06 210.45,165.82 210.80,165.67 211.15,165.66 211.50,165.77 211.85,165.98 212.20,166.22 212.55,166.41 212.90,166.50 213.25,166.46 213.60,166.29 213.95,166.03 214.30,165.73 214.65,165.48 215.00,165.36 215.35,165.39 215.70,165.57 216.05,165.83 216.40,166.11 216.75,166.31 217.10,166.38 217.45,166.30 217.80,166.09 218.15,165.80 218.50,165.51 218.85,165.30 219.20,165.23 219.55,165.31 219.90,165.52 220.25,165.79 220.60,166.05 220.95,166.22 221.30,166.25 221.65,166.13 222.00,165.89 222.35,165.59 222.70,165.27 223.05,165.07 223.40,165.03 223.75,165.17 224.10,165.44 224.45,165.76 224.80,166.04 225.15,166.20 225.50,166.19 225.85,166.00 226.20,165.70 226.55,165.36 226.90,165.11 227.25,164.97 227.60,164.98 227.95,165.15 228.30,165.41 228.65,165.70 229.00,165.93 229.35,166.03 229.70,165.97 230.05,165.77 230.40,165.47 230.75,165.14 231.10,164.88 231.45,164.76 231.80,164.83 232.15,165.05 232.50,165.36 232.85,165.68 233.20,165.90 233.55,165.96 233.90,165.85 234.25,165.59" fill="none" stroke="#111" stroke-width="1.2" stroke-linejoin="round" stroke-linecap="round" />
<polyline points="261.50,192.50 262.30,188.00 263.10,183.70 263.60,190.50 265.60,192.80 267.00,196.90 268.40,199.10 270.00,199.60 270.70,201.40 270.90,188.70 271.30,188.50 271.80,193.20 272.90,185.00 273.30,184.00 273.80,189.60 274.80,182.30 275.80,190.30 277.20,182.30 278.20,190.30 279.60,182.30 280.60,190.30 282.00,182.30 283.00,190.30 284.40,182.30 285.40,190.30 286.80,182.30 287.80,190.30 289.00,182.30 289.60,188.70 291.20,191.00 293.40,190.14 293.90,185.00 294.50,194.30 295.60,190.97 297.00,191.00 297.50,185.50 298.10,195.50 299.20,191.78 300.60,191.79 301.10,186.00 301.70,196.20 302.80,192.57 304.60,192.66 305.10,186.00 305.70,197.00 306.80,193.45 308.30,193.55 308.80,186.50 309.40,198.00 310.50,194.44 312.30,194.62 312.80,187.00 313.40,199.50 314.50,195.50 315.90,195.57 316.40,188.00 317.00,199.90 318.10,196.52 319.90,196.76 320.40,189.00 321.00,202.80 322.10,197.71 323.60,197.86 324.10,190.40 324.70,203.50 325.80,198.81 328.20,206.00 328.50,206.77 328.65,206.77 328.80,206.77 328.95,206.77 329.10,206.77 329.25,206.77 329.40,207.32 329.55,208.01 329.70,208.71 329.85,209.41 330.00,210.10 330.15,210.71 330.30,210.94 330.45,210.94 330.60,210.94 330.75,210.94 330.90,210.94 331.05,210.94 331.20,210.94 331.35,210.94 331.50,210.94 331.65,210.94 331.80,210.94 331.95,210.95 332.10,211.34 332.25,211.73 332.40,212.12 332.55,212.50 332.70,212.89 332.85,213.28 333.00,213.83 333.15,214.39 333.30,214.95 333.45,215.51 333.60,216.07 333.75,216.63 333.90,217.09 334.05,217.33 334.20,217.33 334.35,217.33 334.50,217.33 334.65,217.33 334.80,217.33 334.95,217.33 335.10,217.33 335.25,217.33 335.40,217.33 335.55,217.33 335.70,217.33 335.85,217.54 336.00,217.81 336.15,218.08 336.30,218.36 336.45,218.63 336.60,218.90 336.75,219.17 336.90,219.45 337.05,219.72 337.20,220.09 337.35,220.45 337.50,220.81 337.65,221.17 337.80,221.53 337.95,221.58 338.10,221.58 338.25,221.58 338.40,221.58 338.55,221.58 338.70,221.58 338.85,221.58 339.00,221.58 339.15,221.58 339.30,221.58 339.45,221.58 339.60,221.75 339.75,222.11 339.90,222.47 340.05,222.83 340.20,223.19 340.35,223.46 340.50,223.59 340.65,223.73 340.80,223.87 340.95,224.00 341.10,224.14 341.25,224.28 341.40,224.41 341.55,224.55 341.70,224.61 341.85,224.61 342.00,224.61 342.15,224.61 342.30,224.61 342.45,224.61 342.60,224.61 342.75,224.61 342.90,224.61 343.05,224.61 343.20,224.61 343.35,224.63 343.50,224.77 343.65,224.91 343.80,225.04 343.95,225.18 344.10,225.25 344.25,225.30 344.40,225.35 344.55,225.41 344.70,225.46 344.85,225.51 345.00,225.57 345.15,225.62 345.30,225.67 345.45,225.71 345.60,225.71 345.75,225.71 345.90,225.71 346.05,225.71 346.20,225.71 346.35,225.71 346.50,225.71 346.65,225.71 346.80,225.71 346.95,225.71 347.10,225.71 347.25,225.76 347.40,225.81 347.55,225.87 347.70,225.92 347.85,225.97 348.00,226.03 348.15,226.08 348.30,226.15 348.45,226.22 348.60,226.29 348.75,226.37 348.90,226.44 349.05,226.52 349.20,226.59 349.35,226.59 349.50,226.59 349.65,226.59 349.80,226.59 349.95,226.59 350.10,226.59 350.25,226.59 350.40,226.59 350.70,227.00 351.40,218.80 352.50,217.90 353.20,196.90 353.80,189.60 354.70,186.80 355.60,194.00 355.75,193.91 355.91,193.66 356.06,193.23 356.22,192.64 356.37,191.87 356.53,190.94 356.68,189.83 356.84,188.55 356.99,187.10 357.15,185.49 357.30,183.70 357.46,185.39 357.61,186.96 357.77,188.41 357.93,189.72 358.09,190.92 358.24,191.98 358.40,192.93 358.56,193.74 358.71,194.43 358.87,195.00 359.03,195.44 359.19,195.75 359.34,195.94 359.50,196.00 359.65,195.93 359.81,195.70 359.96,195.33 360.12,194.82 360.27,194.15 360.42,193.34 360.58,192.38 360.73,191.27 360.88,190.01 361.04,188.60 361.19,187.05 361.35,185.35 361.50,183.50 361.66,185.64 361.82,187.59 361.98,189.36 362.13,190.94 362.29,192.34 362.45,193.55 362.61,194.57 362.77,195.41 362.92,196.06 363.08,196.53 363.24,196.81 363.40,196.90 363.55,196.81 363.70,196.53 363.85,196.08 364.00,195.43 364.15,194.61 364.30,193.60 364.45,192.41 364.60,191.03 364.75,189.47 364.90,187.73 365.05,185.81 365.20,183.70 365.35,185.65 365.51,187.45 365.66,189.09 365.82,190.57 365.97,191.90 366.12,193.07 366.28,194.09 366.43,194.95 366.58,195.65 366.74,196.20 366.89,196.59 367.05,196.82 367.20,196.90 367.36,196.81 367.52,196.53 367.68,196.08 367.83,195.43 367.99,194.61 368.15,193.60 368.31,192.41 368.47,191.03 368.62,189.47 368.78,187.73 368.94,185.81 369.10,183.70 369.26,185.81 369.42,187.73 369.58,189.47 369.73,191.03 369.89,192.41 370.05,193.60 370.21,194.61 370.37,195.43 370.52,196.08 370.68,196.53 370.84,196.81 371.00,196.90 371.16,196.81 371.32,196.53 371.48,196.08 371.63,195.43 371.79,194.61 371.95,193.60 372.11,192.41 372.27,191.03 372.42,189.47 372.58,187.73 372.74,185.81 372.90,183.70 373.06,185.76 373.22,187.64 373.38,189.34 373.53,190.87 373.69,192.21 373.85,193.38 374.01,194.36 374.17,195.17 374.32,195.79 374.48,196.24 374.64,196.51 374.80,196.60 374.95,196.51 375.10,196.24 375.25,195.78 375.40,195.14 375.55,194.33 375.70,193.32 375.85,192.14 376.00,190.78 376.15,189.23 376.30,187.50 376.45,185.59 376.60,183.50 376.75,185.38 376.91,187.11 377.06,188.69 377.22,190.11 377.37,191.39 377.52,192.52 377.68,193.49 377.83,194.32 377.98,195.00 378.14,195.52 378.29,195.90 378.45,196.12 378.60,196.20 378.76,196.10 378.93,195.79 379.09,195.27 379.25,194.55 379.42,193.62 379.58,192.48 379.75,191.14 379.91,189.59 380.07,187.83 380.24,185.87 380.40,183.70 380.55,185.59 380.71,187.34 380.86,188.93 381.02,190.37 381.17,191.65 381.32,192.79 381.48,193.77 381.63,194.61 381.78,195.29 381.94,195.82 382.09,196.20 382.25,196.42 382.40,196.50 382.55,196.41 382.70,196.15 382.85,195.72 383.00,195.11 383.15,194.33 383.30,193.38 383.45,192.25 383.60,190.94 383.75,189.47 383.90,187.82 384.05,186.00 384.20,184.00 384.35,185.79 384.51,187.46 384.66,189.00 384.81,190.42 384.97,191.72 385.12,192.90 385.27,193.95 385.43,194.87 385.58,195.68 385.73,196.36 385.89,196.91 386.04,197.34 386.19,197.65 386.35,197.84 386.50,197.90 386.66,197.81 386.82,197.55 386.98,197.11 387.13,196.49 387.29,195.70 387.45,194.72 387.61,193.58 387.77,192.26 387.92,190.76 388.08,189.08 388.24,187.23 388.40,185.20 388.55,187.43 388.71,189.49 388.86,191.37 389.02,193.06 389.17,194.58 389.32,195.92 389.48,197.08 389.63,198.07 389.78,198.87 389.94,199.50 390.09,199.94 390.25,200.21 390.40,200.30 390.56,200.18 390.71,199.82 390.87,199.22 391.02,198.38 391.18,197.31 391.33,195.99 391.49,194.43 391.64,192.64 391.80,190.60 391.96,192.29 392.12,193.86 392.28,195.32 392.44,196.66 392.60,197.88 392.76,198.98 392.92,199.97 393.08,200.85 393.24,201.60 393.40,202.24 393.56,202.77 393.72,203.18 393.88,203.47 394.04,203.64 394.20,203.70 394.35,203.52 394.50,203.00 394.65,202.12 394.80,200.90 394.95,199.32 395.10,197.40 395.25,195.12 395.40,192.50 395.55,189.52 395.70,186.20 395.86,188.61 396.02,190.81 396.18,192.81 396.33,194.59 396.49,196.16 396.65,197.53 396.81,198.68 396.97,199.62 397.12,200.36 397.28,200.88 397.44,201.20 397.60,201.30 397.75,201.16 397.90,200.76 398.05,200.08 398.20,199.12 398.35,197.90 398.50,196.40 398.65,194.64 398.80,192.60 398.95,190.28 399.10,187.70 399.26,190.03 399.42,192.16 399.58,194.09 399.73,195.81 399.89,197.33 400.05,198.65 400.21,199.77 400.37,200.68 400.52,201.39 400.68,201.89 400.84,202.20 401.00,202.30 401.15,202.14 401.30,201.68 401.45,200.90 401.60,199.80 401.75,198.40 401.90,196.68 402.05,194.66 402.20,192.32 402.35,189.66 402.50,186.70 402.65,189.01 402.81,191.13 402.96,193.07 403.12,194.82 403.27,196.39 403.42,197.78 403.58,198.98 403.73,199.99 403.88,200.82 404.04,201.47 404.19,201.93 404.35,202.21 404.50,202.30 404.66,202.11 404.81,201.53 404.97,200.57 405.12,199.22 405.28,197.49 405.43,195.37 405.59,192.86 405.74,189.97 405.90,186.70 406.05,189.74 406.20,192.46 406.35,194.86 406.50,196.94 406.65,198.70 406.80,200.14 406.95,201.26 407.10,202.06 407.25,202.54 407.40,202.70 407.56,202.38 407.71,201.43 407.87,199.85 408.03,197.64 408.19,194.79 408.34,191.31 408.50,187.20 408.65,189.76 408.80,192.09 408.95,194.20 409.10,196.09 409.25,197.76 409.40,199.20 409.55,200.42 409.70,201.42 409.85,202.20 410.00,202.76 410.15,203.09 410.30,203.20 410.47,202.76 410.63,201.42 410.80,199.20 410.97,196.09 411.13,192.09 411.30,187.20 411.46,189.76 411.62,192.09 411.77,194.20 411.93,196.09 412.09,197.76 412.25,199.20 412.41,200.42 412.57,201.42 412.73,202.20 412.88,202.76 413.04,203.09 413.20,203.20 413.35,203.03 413.50,202.52 413.65,201.67 413.80,200.48 413.95,198.95 414.10,197.08 414.25,194.87 414.40,192.32 414.55,189.43 414.70,186.20 414.86,188.13 415.01,189.83 415.17,191.31 415.32,192.56 415.48,193.58 415.63,194.38 415.79,194.95 415.94,195.29 416.10,195.40 416.25,195.33 416.41,195.11 416.56,194.76 416.72,194.25 416.87,193.61 417.02,192.82 417.18,191.89 417.33,190.82 417.48,189.60 417.64,188.24 417.79,186.74 417.95,185.09 418.10,183.30 418.26,185.55 418.41,187.53 418.57,189.24 418.72,190.70 418.88,191.89 419.03,192.81 419.19,193.47 419.34,193.87 419.50,194.00 419.66,193.95 419.81,193.82 419.97,193.59 420.12,193.27 420.28,192.86 420.44,192.35 420.59,191.76 420.75,191.07 420.91,190.30 421.06,189.43 421.22,188.47 421.38,187.42 421.53,186.28 421.69,185.04 421.84,183.72 422.00,182.30 422.16,183.63 422.32,184.86 422.48,186.01 422.64,187.06 422.80,188.02 422.96,188.89 423.12,189.67 423.28,190.36 423.44,190.95 423.60,191.46 423.76,191.87 423.92,192.19 424.08,192.42 424.24,192.55 424.40,192.60 424.55,192.49 424.70,192.15 424.85,191.58 425.00,190.79 425.15,189.78 425.30,188.53 425.45,187.06 425.60,185.37 425.75,183.45 425.90,181.30 426.05,183.81 426.20,186.05 426.35,188.03 426.50,189.75 426.65,191.20 426.80,192.39 426.95,193.31 427.10,193.97 427.25,194.37 427.40,194.50 427.56,194.43 427.72,194.21 427.88,193.86 428.03,193.36 428.19,192.71 428.35,191.93 428.51,191.00 428.67,189.92 428.82,188.71 428.98,187.35 429.14,185.85 429.30,184.20 429.46,186.07 429.62,187.78 429.77,189.32 429.93,190.70 430.09,191.92 430.25,192.97 430.41,193.87 430.57,194.60 430.73,195.17 430.88,195.58 431.04,195.82 431.20,195.90 431.36,195.85 431.51,195.70 431.67,195.46 431.82,195.11 431.98,194.67 432.14,194.13 432.29,193.49 432.45,192.75 432.61,191.91 432.76,190.98 432.92,189.94 433.07,188.81 433.23,187.58 433.39,186.25 433.54,184.83 433.70,183.30 433.86,185.01 434.02,186.57 434.18,187.98 434.33,189.24 434.49,190.36 434.65,191.32 434.81,192.14 434.97,192.81 435.12,193.33 435.28,193.70 435.44,193.93 435.60,194.00 435.75,193.90 435.90,193.59 436.05,193.08 436.20,192.37 436.35,191.45 436.50,190.33 436.65,189.00 436.80,187.47 436.95,185.74 437.10,183.80 437.26,185.55 437.42,187.18 437.58,188.70 437.74,190.09 437.90,191.36 438.06,192.50 438.22,193.53 438.38,194.44 438.54,195.22 438.70,195.89 438.86,196.43 439.02,196.86 439.18,197.16 439.34,197.34 439.50,197.40 439.65,197.26 439.80,196.86 439.95,196.18 440.10,195.22 440.25,194.00 440.40,192.50 440.55,190.74 440.70,188.70 440.85,186.38 441.00,183.80 441.16,185.49 441.32,187.06 441.48,188.52 441.64,189.86 441.80,191.08 441.96,192.18 442.12,193.17 442.28,194.05 442.44,194.80 442.60,195.44 442.76,195.97 442.92,196.38 443.08,196.67 443.24,196.84 443.40,196.90 443.55,196.77 443.70,196.39 443.85,195.76 444.00,194.87 444.15,193.72 444.30,192.33 444.45,190.68 444.60,188.77 444.75,186.61 444.90,184.20 445.06,186.55 445.21,188.62 445.37,190.42 445.52,191.94 445.68,193.19 445.83,194.16 445.99,194.85 446.14,195.26 446.30,195.40 446.46,195.36 446.61,195.24 446.77,195.04 446.93,194.76 447.08,194.40 447.24,193.97 447.39,193.45 447.55,192.85 447.71,192.17 447.86,191.42 448.02,190.58 448.18,189.66 448.33,188.67 448.49,187.59 448.64,186.44 448.80,185.20 448.96,187.15 449.11,188.87 449.27,190.37 449.42,191.63 449.58,192.66 449.73,193.47 449.89,194.04 450.04,194.39 450.20,194.50 450.35,194.44 450.51,194.27 450.66,193.98 450.82,193.57 450.97,193.05 451.12,192.41 451.28,191.66 451.43,190.79 451.58,189.80 451.74,188.70 451.89,187.48 452.05,186.15 452.20,184.70 452.36,186.19 452.52,187.54 452.68,188.77 452.83,189.87 452.99,190.84 453.15,191.68 453.31,192.39 453.47,192.97 453.62,193.42 453.78,193.74 453.94,193.94 454.10,194.00 454.25,193.94 454.41,193.78 454.56,193.50 454.72,193.12 454.87,192.62 455.02,192.02 455.18,191.30 455.33,190.48 455.48,189.54 455.64,188.50 455.79,187.34 455.95,186.08 456.10,184.70 456.26,186.49 456.42,188.12 456.58,189.60 456.73,190.92 456.89,192.09 457.05,193.10 457.21,193.96 457.37,194.66 457.52,195.20 457.68,195.59 457.84,195.82 458.00,195.90" fill="none" stroke="#111" stroke-width="1.35" stroke-linejoin="round" stroke-linecap="round" />
<polyline points="261.50,193.10 261.81,193.14 262.12,193.19 262.43,193.23 262.74,193.27 263.05,193.31 263.36,193.36 263.68,193.40 263.99,193.44 264.30,193.49 264.61,193.53 264.92,193.57 265.23,193.61 265.54,193.66 265.85,193.70 266.16,193.74 266.47,193.79 266.78,193.83 267.09,193.87 267.40,193.91 267.71,193.96 268.02,194.00 268.34,194.04 268.65,194.09 268.96,194.13 269.27,194.17 269.58,194.21 269.89,194.26 270.20,194.30 270.50,194.30 270.80,194.30 271.10,194.30 271.40,194.30 271.70,194.30 272.00,194.30 272.30,194.30 272.60,194.30 272.90,194.30 273.20,194.30 273.50,194.30 273.80,194.30 274.10,194.30 274.40,194.30 274.70,194.30 275.00,194.30 275.30,194.30 275.60,194.30 275.92,194.14 276.24,193.97 276.55,193.81 276.87,193.64 277.19,193.48 277.51,193.31 277.82,193.15 278.14,192.98 278.46,192.82 278.78,192.65 279.09,192.49 279.41,192.32 279.73,192.16 280.05,191.99 280.36,191.83 280.68,191.66 281.00,191.50 281.31,191.38 281.62,191.25 281.93,191.13 282.24,191.01 282.55,190.89 282.85,190.76 283.16,190.64 283.47,190.52 283.78,190.40 284.09,190.27 284.40,190.15 284.71,190.03 285.02,189.90 285.33,189.78 285.64,189.66 285.95,189.54 286.25,189.41 286.56,189.29 286.87,189.17 287.18,189.05 287.49,188.92 287.80,188.80 288.11,188.87 288.41,188.95 288.72,189.02 289.03,189.09 289.33,189.17 289.64,189.24 289.95,189.31 290.25,189.39 290.56,189.46 290.87,189.53 291.17,189.61 291.48,189.68 291.79,189.75 292.09,189.83 292.40,189.90 292.71,189.97 293.01,190.05 293.32,190.12 293.63,190.19 293.93,190.27 294.24,190.34 294.55,190.41 294.85,190.49 295.16,190.56 295.47,190.63 295.77,190.71 296.08,190.78 296.39,190.85 296.69,190.93 297.00,191.00 297.30,191.07 297.60,191.13 297.90,191.20 298.20,191.26 298.50,191.33 298.80,191.39 299.10,191.46 299.40,191.53 299.70,191.59 300.00,191.66 300.30,191.72 300.60,191.79 300.90,191.85 301.20,191.92 301.50,191.98 301.80,192.05 302.10,192.12 302.40,192.18 302.70,192.25 303.00,192.31 303.30,192.38 303.60,192.44 303.90,192.51 304.20,192.57 304.50,192.64 304.80,192.71 305.10,192.77 305.40,192.84 305.70,192.90 306.00,192.97 306.30,193.03 306.60,193.10 306.90,193.18 307.21,193.26 307.51,193.34 307.81,193.42 308.12,193.50 308.42,193.58 308.72,193.66 309.03,193.75 309.33,193.83 309.63,193.91 309.94,193.99 310.24,194.07 310.54,194.15 310.85,194.23 311.15,194.31 311.45,194.39 311.75,194.47 312.06,194.55 312.36,194.63 312.66,194.71 312.97,194.79 313.27,194.87 313.57,194.95 313.88,195.04 314.18,195.12 314.48,195.20 314.79,195.28 315.09,195.36 315.39,195.44 315.70,195.52 316.00,195.60 316.31,195.69 316.61,195.78 316.92,195.87 317.22,195.96 317.53,196.05 317.84,196.15 318.14,196.24 318.45,196.33 318.75,196.42 319.06,196.51 319.37,196.60 319.67,196.69 319.98,196.78 320.28,196.87 320.59,196.96 320.90,197.05 321.20,197.15 321.51,197.24 321.82,197.33 322.12,197.42 322.43,197.51 322.73,197.60 323.04,197.69 323.35,197.78 323.65,197.87 323.96,197.96 324.26,198.05 324.57,198.15 324.88,198.24 325.18,198.33 325.49,198.42 325.79,198.51 326.10,198.60 326.40,198.69 326.71,198.79 327.01,198.88 327.31,198.98 327.61,199.07 327.92,199.17 328.22,199.26 328.52,199.36 328.82,199.45 329.12,199.55 329.43,199.65 329.73,199.74 330.03,199.84 330.34,199.93 330.64,200.03 330.94,200.12 331.24,200.22 331.55,200.31 331.85,200.41 332.15,200.50 332.45,200.59 332.75,200.69 333.06,200.78 333.36,200.88 333.66,200.97 333.96,201.07 334.27,201.16 334.57,201.26 334.87,201.35 335.18,201.45 335.48,201.55 335.78,201.64 336.08,201.74 336.38,201.83 336.69,201.93 336.99,202.02 337.29,202.12 337.59,202.21 337.90,202.31 338.20,202.40 338.51,202.46 338.81,202.52 339.12,202.58 339.43,202.64 339.73,202.70 340.04,202.76 340.35,202.82 340.65,202.88 340.96,202.94 341.27,203.00 341.57,203.06 341.88,203.12 342.19,203.18 342.49,203.24 342.80,203.30 343.11,203.36 343.41,203.42 343.72,203.48 344.03,203.54 344.33,203.60 344.64,203.66 344.95,203.72 345.25,203.78 345.56,203.84 345.87,203.90 346.17,203.96 346.48,204.02 346.79,204.08 347.09,204.14 347.40,204.20 347.70,204.20 348.01,204.20 348.31,204.20 348.62,204.20 348.92,204.20 349.22,204.20 349.53,204.20 349.83,204.20 350.14,204.20 350.44,204.20 350.75,204.20 351.05,204.20 351.35,204.20 351.66,204.20 351.96,204.20 352.27,204.20 352.57,204.20 352.88,204.20 353.18,204.20 353.48,204.20 353.79,204.20 354.09,204.20 354.40,204.20 354.70,204.20 355.00,203.93 355.30,203.66 355.60,203.39 355.90,203.11 356.20,202.84 356.50,202.57 356.80,202.30 357.13,201.84 357.46,201.39 357.79,200.93 358.11,200.47 358.44,200.01 358.77,199.56 359.10,199.10 359.43,198.66 359.76,198.21 360.09,197.77 360.41,197.33 360.74,196.89 361.07,196.44 361.40,196.00 361.75,195.43 362.10,195.31 362.45,194.49 362.80,193.60 363.10,193.20 363.40,192.89 363.70,192.70 364.00,192.65 364.30,192.70 364.60,192.81 364.95,192.89 365.30,192.86 365.65,192.66 366.00,192.29 366.32,192.31 366.65,192.30 366.98,192.32 367.30,192.46 367.60,192.34 367.90,192.34 368.20,192.44 368.50,192.58 368.80,192.69 369.10,192.71 369.41,192.86 369.72,192.86 370.03,192.75 370.34,192.58 370.66,192.43 370.97,192.36 371.28,192.43 371.59,192.64 371.90,192.96 372.20,193.16 372.50,193.35 372.80,193.48 373.10,193.48 373.40,193.36 373.70,193.11 374.00,192.93 374.30,192.74 374.60,192.60 374.90,192.56 375.20,192.65 375.50,192.87 375.80,193.18 376.10,193.53 376.40,193.84 376.70,194.07 377.00,194.17 377.30,194.14 377.61,193.92 377.91,193.65 378.22,193.39 378.53,193.21 378.83,193.15 379.14,193.23 379.45,193.43 379.75,193.70 380.06,193.97 380.37,194.17 380.67,194.25 380.98,194.19 381.29,194.01 381.59,193.75 381.90,193.48 382.21,193.34 382.52,193.31 382.83,193.43 383.14,193.68 383.45,194.01 383.76,194.37 384.07,194.68 384.38,194.88 384.69,194.94 385.00,194.87 385.30,194.73 385.61,194.56 385.91,194.43 386.21,194.40 386.52,194.49 386.82,194.72 387.12,195.05 387.43,195.43 387.73,195.79 388.03,196.06 388.33,196.22 388.64,196.23 388.94,196.14 389.24,195.98 389.55,195.82 389.85,195.73 390.15,195.76 390.46,195.92 390.76,196.20 391.06,196.56 391.37,196.94 391.67,197.27 391.97,197.49 392.27,197.57 392.58,197.53 392.88,197.39 393.18,197.23 393.49,197.09 393.79,197.06 394.09,197.15 394.40,197.37 394.70,197.70 395.01,198.04 395.31,198.35 395.62,198.58 395.93,198.69 396.23,198.65 396.54,198.50 396.84,198.29 397.15,198.09 397.46,197.95 397.76,197.94 398.07,198.07 398.38,198.32 398.68,198.64 398.99,198.97 399.29,199.24 399.60,199.40 399.91,199.41 400.21,199.30 400.52,199.11 400.82,198.90 401.13,198.73 401.44,198.67 401.74,198.74 402.05,198.95 402.36,199.25 402.66,199.59 402.97,199.89 403.27,200.09 403.58,200.16 403.89,200.09 404.19,199.93 404.50,199.71 404.80,199.52 405.11,199.42 405.41,199.44 405.71,199.60 406.02,199.86 406.32,200.19 406.62,200.52 406.93,200.77 407.23,200.91 407.53,200.91 407.83,200.80 408.14,200.60 408.44,200.39 408.74,200.24 409.05,200.19 409.35,200.28 409.65,200.50 409.96,200.80 410.26,201.14 410.56,201.44 410.87,201.64 411.17,201.71 411.47,201.65 411.77,201.49 412.08,201.28 412.38,201.09 412.68,200.98 412.99,201.00 413.29,201.16 413.59,201.42 413.90,201.75 414.20,202.08 414.51,202.21 414.81,202.22 415.12,202.10 415.43,201.85 415.73,201.53 416.04,201.20 416.34,200.92 416.65,200.75 416.96,200.73 417.26,200.83 417.57,201.02 417.88,201.23 418.18,201.40 418.49,201.46 418.79,201.39 419.10,201.19 419.42,200.93 419.74,200.64 420.07,200.40 420.39,200.26 420.71,200.28 421.03,200.44 421.36,200.70 421.68,200.99 422.00,201.23 422.32,201.14 422.65,200.91 422.98,200.53 423.30,200.06 423.62,199.57 423.95,199.14 424.27,198.85 424.60,198.71 424.92,198.71 425.25,198.79 425.57,198.88 425.90,198.88 426.20,198.45 426.50,197.89 426.80,197.20 427.10,196.45 427.40,195.68 427.70,198.23 428.00,200.89 428.30,203.68 428.60,203.05 428.90,202.50 429.20,202.00 429.50,201.45 429.80,200.82 430.12,200.63 430.44,200.28 430.77,199.83 431.09,199.33 431.41,198.86 431.73,198.50 432.06,198.29 432.38,198.23 432.70,198.27 433.02,197.96 433.34,197.61 433.67,197.14 433.99,196.52 434.31,195.76 434.63,194.90 434.96,194.01 435.28,193.17 435.60,192.46 435.93,192.41 436.27,192.52 436.60,192.72 436.93,192.93 437.27,193.06 437.60,193.05 437.92,193.20 438.23,193.23 438.55,193.18 438.87,193.14 439.18,193.18 439.50,193.35 439.83,193.18 440.17,193.14 440.50,193.17 440.83,193.18 441.17,193.08 441.50,192.84 441.82,192.91 442.13,192.87 442.45,192.78 442.77,192.73 443.08,192.78 443.40,192.96 443.73,192.94 444.07,193.03 444.40,193.16 444.73,193.25 445.07,193.21 445.40,193.01 445.75,193.31 446.10,193.51 446.45,193.71 446.80,194.00 447.13,197.02 447.47,200.20 447.80,203.51 448.10,203.10 448.40,202.67 448.70,202.16 449.00,201.53 449.30,200.76 449.62,200.34 449.94,199.84 450.27,199.36 450.59,198.96 450.91,198.70 451.23,198.59 451.56,198.60 451.88,198.68 452.20,198.74 452.52,198.26 452.83,197.64 453.15,196.88 453.47,196.01 453.78,195.07 454.10,194.16 454.41,193.74 454.73,193.45 455.04,193.31 455.35,193.28 455.66,193.31 455.98,193.32 456.29,193.25 456.60,193.05 456.94,193.14 457.28,192.90 457.62,193.10 457.96,193.30 458.30,193.50" fill="none" stroke="#4646cc" stroke-width="0.85" stroke-linejoin="round" stroke-linecap="round" />
<polyline points="484.40,185.10 485.40,171.70 486.90,180.20 488.80,177.10 490.50,179.50 492.20,178.50 494.20,182.70 496.10,175.40 497.80,182.70 499.50,181.50 501.00,185.10 501.15,185.10 501.30,185.10 501.45,185.10 501.60,185.10 501.75,185.10 501.90,185.10 502.05,185.10 502.20,185.10 502.35,185.34 502.50,185.68 502.65,186.02 502.80,186.36 502.95,186.70 503.10,187.04 503.25,187.38 503.40,187.71 503.55,188.05 503.70,188.39 503.85,188.53 504.00,188.53 504.15,188.53 504.30,188.53 504.45,188.53 504.60,188.53 504.75,188.53 504.90,188.53 505.05,188.53 505.20,188.53 505.35,188.53 505.50,188.60 505.65,188.95 505.80,189.32 505.95,189.68 506.10,190.05 506.25,190.41 506.40,190.77 506.55,191.14 506.70,191.50 506.85,191.95 507.00,192.41 507.15,192.86 507.30,193.32 507.45,193.77 507.60,194.09 507.75,194.09 507.90,194.09 508.05,194.09 508.20,194.09 508.35,194.09 508.50,194.09 508.65,194.09 508.80,194.09 508.95,194.09 509.10,194.09 509.25,194.09 509.40,194.51 509.55,194.96 509.70,195.41 509.85,195.87 510.00,196.25 510.15,196.61 510.30,196.97 510.45,197.32 510.60,197.68 510.75,198.03 510.90,198.39 511.05,198.74 511.20,199.13 511.35,199.58 511.50,199.58 511.65,199.58 511.80,199.58 511.95,199.58 512.10,199.58 512.25,199.58 512.40,199.58 512.55,199.58 512.70,199.58 512.85,199.58 513.00,199.58 513.15,199.85 513.30,200.30 513.45,200.76 513.60,201.21 513.75,201.66 513.90,202.11 514.05,202.56 514.20,203.01 514.35,203.42 514.50,203.75 514.65,204.08 514.80,204.41 514.95,204.74 515.10,205.09 515.25,205.20 515.40,205.20 515.55,205.20 515.70,205.20 515.85,205.20 516.00,205.20 516.15,205.20 516.30,205.20 516.45,205.20 516.60,205.20 516.75,205.20 516.90,205.32 517.05,205.70 517.20,206.08 517.35,206.46 517.50,206.84 517.65,207.21 517.80,207.59 517.95,207.97 518.10,208.53 518.25,209.35 518.40,210.17 518.55,210.98 518.70,211.80 518.85,210.51 519.00,209.71 519.15,209.71 519.30,209.71 519.45,209.71 519.60,209.71 519.75,209.71 519.90,209.71 520.05,209.71 520.20,209.71 520.35,209.71 520.50,209.71 520.65,209.71 520.80,208.53 520.95,209.06 521.10,209.59 521.25,210.12 521.40,210.65 521.55,211.18 521.70,211.71 521.85,212.16 522.00,212.52 522.15,212.87 522.30,213.23 522.45,213.58 522.60,213.94 522.75,214.27 522.90,214.27 523.05,214.27 523.20,214.27 523.35,214.27 523.50,214.27 523.65,214.27 523.80,214.27 523.95,214.27 524.10,214.27 524.25,214.27 524.40,214.27 524.55,214.51 524.70,214.87 524.85,215.23 525.00,215.58 525.15,215.94 525.30,216.29 525.45,216.65 525.60,217.02 525.75,217.40 525.90,217.77 526.05,218.15 526.20,218.52 526.35,218.90 526.50,219.27 526.65,219.36 526.80,219.36 526.95,219.36 527.10,219.36 527.25,219.36 527.40,219.36 527.55,219.36 527.70,219.36 527.85,219.36 528.00,219.36 528.15,219.36 528.30,219.50 528.45,219.88 528.60,220.27 528.75,220.66 528.90,221.05 529.05,221.45 529.20,221.84 529.35,222.23 529.50,222.63 529.65,223.02 529.80,223.42 529.95,223.81 530.10,224.20 530.25,224.60 530.40,224.81 530.55,224.81 530.70,224.81 530.85,224.81 531.00,224.81 531.15,224.81 531.30,224.81 531.45,224.81 531.60,224.81 531.75,224.81 531.90,224.81 532.05,224.84 532.20,225.23 532.35,225.53 532.50,225.84 532.65,226.14 532.80,226.45 532.95,226.75 533.10,227.05 533.25,227.36 533.40,227.66 533.55,227.97 533.70,228.27 533.85,228.58 534.00,228.88 534.15,229.11 534.30,229.11 534.45,229.11 534.60,229.11 534.75,229.11 534.90,229.11 535.05,229.11 535.20,229.11 535.35,229.11 535.50,229.11 535.65,229.11 535.80,229.11 535.95,229.30 536.10,229.55 536.25,229.79 536.40,230.04 536.55,230.28 536.70,230.53 536.85,230.77 537.00,231.01 537.15,231.26 537.30,231.50 537.45,231.75 537.60,231.99 537.75,232.24 537.90,232.48 538.05,232.52 538.20,232.52 538.35,232.52 538.50,232.52 538.65,232.52 538.80,232.52 538.95,232.52 539.10,232.52 539.25,232.52 539.40,232.52 539.55,232.52 539.70,232.60 539.85,232.79 540.00,232.97 540.15,233.16 540.30,233.35 540.45,233.53 540.60,233.72 540.75,233.95 540.90,234.21 541.05,234.48 541.20,234.74 541.35,235.00 541.50,235.27 541.65,235.53 541.80,235.65 541.95,235.65 542.10,235.65 542.25,235.65 542.40,235.65 542.55,235.65 542.70,235.65 542.85,235.65 543.00,235.65 543.15,235.65 543.30,235.65 543.45,235.69 543.60,235.95 543.75,236.22 543.90,236.48 544.05,237.00 544.20,237.55 544.35,238.09 544.50,238.64 544.65,239.18 544.80,239.73 544.95,240.28 545.10,240.82 545.25,241.21 545.40,241.43 546.00,242.00 546.40,217.90 547.40,220.40 548.30,224.30 549.60,226.20 550.30,210.20 551.30,219.40 552.20,223.80 553.20,226.70 553.90,206.30 554.70,206.80 555.50,220.40 556.10,223.80 557.10,218.40 557.60,224.80 558.60,211.60 559.20,203.40 560.00,207.20 561.00,207.70 562.00,214.50 562.50,222.30 563.40,206.80 564.40,209.70 565.90,213.60 567.30,223.30 569.30,229.10 570.80,235.60 573.00,241.10 574.10,247.50 574.90,228.30 576.00,229.20 576.50,210.00 576.90,201.00 577.80,203.20 578.80,202.00 579.80,196.50 580.60,195.20 581.60,198.50 582.60,197.00 583.50,193.50 584.40,192.40 585.40,196.50 586.30,195.80 587.30,191.80 588.10,191.10 589.90,197.30 591.70,190.40 593.90,196.60 595.40,190.00 597.50,195.50 599.40,190.00 600.80,194.80 601.80,194.00 602.70,195.50 604.10,197.70 605.60,200.20 607.00,201.70 608.50,205.70 609.60,210.00 609.75,210.00 609.90,210.52 610.05,211.27 610.20,211.27 610.35,211.27 610.50,211.27 610.65,211.27 610.80,211.27 610.95,211.27 611.10,211.27 611.25,211.27 611.40,211.27 611.55,211.27 611.70,211.27 611.85,211.77 612.00,212.55 612.15,213.33 612.30,214.17 612.45,215.38 612.60,216.59 612.75,217.81 612.90,219.02 613.05,220.23 613.20,221.44 613.35,222.61 613.50,223.73 613.65,224.85 613.80,225.98 613.95,226.29 614.10,226.29 614.25,226.29 614.40,226.29 614.55,226.29 614.70,226.29 614.85,226.29 615.00,226.29 615.15,226.29 615.30,226.29 615.45,226.29 615.60,226.66 615.75,227.79 615.90,228.91 616.05,229.79 616.20,230.65 616.35,231.51 616.50,232.38 616.65,233.24 616.80,234.10 616.95,234.96 617.10,236.00 617.25,237.05 617.40,238.10 617.55,239.15 617.70,239.76 617.85,239.76 618.00,239.76 618.15,239.76 618.30,239.76 618.45,239.76 618.60,239.76 618.75,239.76 618.90,239.76 619.05,239.76 619.20,239.76 619.35,239.79 619.50,240.43 619.65,240.96 619.80,241.50 619.95,242.03 620.10,242.57 620.25,243.11 620.40,243.64 620.55,244.18 620.70,244.71 620.85,245.25 621.00,245.80 621.15,246.36 621.30,246.92 621.45,247.41 621.60,247.41 621.75,247.41 621.90,247.41 622.05,247.41 622.20,247.41 622.35,247.41 622.50,247.41 622.65,247.41 622.80,247.41 622.95,247.41 623.10,247.41 623.25,247.82 623.40,248.38 623.55,248.93 623.70,249.49 623.85,250.03 624.00,250.56 624.15,251.10 624.30,251.63 624.45,252.16 624.60,252.69 624.75,253.23 624.90,253.74 625.05,254.13 625.20,254.51 625.35,254.59 625.50,254.59 625.65,254.59 625.80,254.59 625.95,254.59 626.10,254.59 626.25,254.59 626.40,254.59 626.55,254.59 626.70,254.59 626.85,254.59 627.00,254.75 627.15,255.13 627.30,255.52 627.45,255.90 627.60,256.29 627.75,256.67 627.90,257.06 628.05,257.44 628.20,257.83 628.35,258.21 628.50,258.57 628.65,258.84 628.80,259.12 628.95,259.39 629.10,259.53 629.25,259.53 629.40,259.53 629.55,259.53 629.70,259.53 629.85,259.53 630.00,259.53 630.15,259.53 630.30,259.53 630.45,259.53 630.60,259.53 630.75,259.55 630.90,259.83 631.05,260.10 631.20,260.37 631.35,260.65 631.50,260.92 631.65,261.19 631.80,261.46 631.95,261.74 632.10,262.01 632.25,262.28 632.40,262.55 632.55,262.73 632.70,262.88 632.85,263.01 633.00,263.01 633.15,263.01 633.30,263.01 633.45,263.01 633.60,263.01 633.75,263.01 633.90,263.01 634.05,263.01 634.20,263.01 634.35,263.01 634.50,263.01 634.65,263.13 634.80,263.28 634.95,263.44 635.10,263.59 635.25,263.74 635.40,263.90 635.55,264.05 635.70,264.20 635.85,264.36 636.00,264.51 636.15,264.66 636.30,264.82 636.45,264.97 636.60,265.12 636.75,265.14 636.90,265.14 637.05,265.14 637.20,265.14 637.35,265.14 637.50,265.14 637.65,265.14 637.80,265.14 637.95,265.14 638.10,265.14 638.25,265.14 638.40,265.22 638.55,265.34 638.70,265.42 638.85,265.50 639.00,265.58 639.15,265.65 639.30,265.73 639.45,265.81 639.60,265.89 639.75,265.97 639.90,266.05 640.05,266.13 640.20,266.21 640.35,266.29 640.50,266.32 640.65,266.32 640.80,266.32 640.95,266.32 641.10,266.32 641.25,266.32 641.40,266.32 641.55,266.32 641.70,266.32 641.85,266.32 642.00,266.32 642.15,266.34 642.30,266.42 642.45,266.50 642.60,266.58 642.75,266.66 642.90,266.74 643.05,266.83 643.20,266.92 643.35,267.02 643.50,267.11 643.65,267.20 643.80,267.29 644.60,266.50 645.00,240.00 645.40,215.00 646.10,203.80 646.90,206.30 647.40,203.30 648.00,204.80 648.80,198.50 649.80,203.30 651.20,199.50 652.00,202.90 653.20,197.00 655.10,199.50 656.60,195.60 658.50,199.00 660.00,195.10 662.40,198.00 663.90,194.60 666.30,197.50 667.80,194.10 670.20,196.50 671.20,193.60 673.60,196.00 675.60,192.60 677.50,195.10 679.50,191.70 681.20,194.00" fill="none" stroke="#111" stroke-width="1.3" stroke-linejoin="round" stroke-linecap="round" />
<polyline points="484.40,169.30 511.20,172.90 537.90,177.80 549.10,180.80 557.40,182.30 558.20,182.80 559.30,180.50 560.50,180.20 565.50,181.40 574.60,186.00 576.50,183.70 580.10,180.10 584.70,171.40 590.00,171.30 599.10,171.30 608.20,173.70 617.40,180.10 626.50,186.50 635.60,191.40 642.90,194.30 644.90,194.10 645.40,189.70 646.40,186.30 647.80,183.40 648.80,181.50 650.20,177.50 652.00,173.90 655.00,173.40 658.00,172.90 661.00,172.60 663.00,172.40 667.00,172.20 671.00,171.90 675.00,171.60 681.20,171.30" fill="none" stroke="#4646cc" stroke-width="0.85" stroke-linejoin="round" stroke-linecap="round" />
<rect x="21.45" y="162.60" width="213.10" height="120.45" fill="none" stroke="#9a9a9a" stroke-width="1.0"/>
<line x1="21.45" y1="283.05" x2="21.45" y2="281.05" stroke="#9a9a9a" stroke-width="0.8"/>
<line x1="21.45" y1="162.60" x2="21.45" y2="164.60" stroke="#9a9a9a" stroke-width="0.8"/>
<line x1="50.16" y1="283.05" x2="50.16" y2="281.05" stroke="#9a9a9a" stroke-width="0.8"/>
<line x1="50.16" y1="162.60" x2="50.16" y2="164.60" stroke="#9a9a9a" stroke-width="0.8"/>
<line x1="78.88" y1="283.05" x2="78.88" y2="281.05" stroke="#9a9a9a" stroke-width="0.8"/>
<line x1="78.88" y1="162.60" x2="78.88" y2="164.60" stroke="#9a9a9a" stroke-width="0.8"/>
<line x1="107.59" y1="283.05" x2="107.59" y2="281.05" stroke="#9a9a9a" stroke-width="0.8"/>
<line x1="107.59" y1="162.60" x2="107.59" y2="164.60" stroke="#9a9a9a" stroke-width="0.8"/>
<line x1="136.31" y1="283.05" x2="136.31" y2="281.05" stroke="#9a9a9a" stroke-width="0.8"/>
<line x1="136.31" y1="162.60" x2="136.31" y2="164.60" stroke="#9a9a9a" stroke-width="0.8"/>
<line x1="165.02" y1="283.05" x2="165.02" y2="281.05" stroke="#9a9a9a" stroke-width="0.8"/>
<line x1="165.02" y1="162.60" x2="165.02" y2="164.60" stroke="#9a9a9a" stroke-width="0.8"/>
<line x1="193.73" y1="283.05" x2="193.73" y2="281.05" stroke="#9a9a9a" stroke-width="0.8"/>
<line x1="193.73" y1="162.60" x2="193.73" y2="164.60" stroke="#9a9a9a" stroke-width="0.8"/>
<line x1="222.45" y1="283.05" x2="222.45" y2="281.05" stroke="#9a9a9a" stroke-width="0.8"/>
<line x1="222.45" y1="162.60" x2="222.45" y2="164.60" stroke="#9a9a9a" stroke-width="0.8"/>
<line x1="21.45" y1="162.60" x2="23.45" y2="162.60" stroke="#9a9a9a" stroke-width="0.8"/>
<line x1="234.55" y1="162.60" x2="232.55" y2="162.60" stroke="#9a9a9a" stroke-width="0.8"/>
<line x1="21.45" y1="186.69" x2="23.45" y2="186.69" stroke="#9a9a9a" stroke-width="0.8"/>
<line x1="234.55" y1="186.69" x2="232.55" y2="186.69" stroke="#9a9a9a" stroke-width="0.8"/>
<line x1="21.45" y1="210.78" x2="23.45" y2="210.78" stroke="#9a9a9a" stroke-width="0.8"/>
<line x1="234.55" y1="210.78" x2="232.55" y2="210.78" stroke="#9a9a9a" stroke-width="0.8"/>
<line x1="21.45" y1="234.87" x2="23.45" y2="234.87" stroke="#9a9a9a" stroke-width="0.8"/>
<line x1="234.55" y1="234.87" x2="232.55" y2="234.87" stroke="#9a9a9a" stroke-width="0.8"/>
<line x1="21.45" y1="258.96" x2="23.45" y2="258.96" stroke="#9a9a9a" stroke-width="0.8"/>
<line x1="234.55" y1="258.96" x2="232.55" y2="258.96" stroke="#9a9a9a" stroke-width="0.8"/>
<line x1="21.45" y1="283.05" x2="23.45" y2="283.05" stroke="#9a9a9a" stroke-width="0.8"/>
<line x1="234.55" y1="283.05" x2="232.55" y2="283.05" stroke="#9a9a9a" stroke-width="0.8"/>
<text transform="translate(18.85 164.65) scale(0.97 1)" font-size="6.1" text-anchor="end" font-weight="bold" fill="#222222" >40</text>
<text transform="translate(18.85 188.90) scale(0.97 1)" font-size="6.1" text-anchor="end" font-weight="bold" fill="#222222" >35</text>
<text transform="translate(18.85 213.15) scale(0.97 1)" font-size="6.1" text-anchor="end" font-weight="bold" fill="#222222" >30</text>
<text transform="translate(18.85 237.40) scale(0.97 1)" font-size="6.1" text-anchor="end" font-weight="bold" fill="#222222" >25</text>
<text transform="translate(18.85 261.65) scale(0.97 1)" font-size="6.1" text-anchor="end" font-weight="bold" fill="#222222" >20</text>
<text transform="translate(18.85 285.90) scale(0.97 1)" font-size="6.1" text-anchor="end" font-weight="bold" fill="#222222" >15</text>
<text transform="translate(21.45 291.90) scale(0.97 1)" font-size="6.1" text-anchor="middle" font-weight="bold" fill="#222222" >Aug 02</text>
<text transform="translate(50.16 291.90) scale(0.97 1)" font-size="6.1" text-anchor="middle" font-weight="bold" fill="#222222" >Aug 09</text>
<text transform="translate(78.88 291.90) scale(0.97 1)" font-size="6.1" text-anchor="middle" font-weight="bold" fill="#222222" >Aug 16</text>
<text transform="translate(107.59 291.90) scale(0.97 1)" font-size="6.1" text-anchor="middle" font-weight="bold" fill="#222222" >Aug 23</text>
<text transform="translate(136.31 291.90) scale(0.97 1)" font-size="6.1" text-anchor="middle" font-weight="bold" fill="#222222" >Aug 30</text>
<text transform="translate(165.02 291.90) scale(0.97 1)" font-size="6.1" text-anchor="middle" font-weight="bold" fill="#222222" >Sep 06</text>
<text transform="translate(193.73 291.90) scale(0.97 1)" font-size="6.1" text-anchor="middle" font-weight="bold" fill="#222222" >Sep 13</text>
<text transform="translate(222.45 291.90) scale(0.97 1)" font-size="6.1" text-anchor="middle" font-weight="bold" fill="#222222" >Sep 20</text>
<text transform="translate(222.45 300.90) scale(0.97 1)" font-size="6.1" text-anchor="middle" font-weight="bold" fill="#222222" >2023</text>
<rect x="261.60" y="162.55" width="197.00" height="120.95" fill="none" stroke="#9a9a9a" stroke-width="1.0"/>
<line x1="261.60" y1="283.50" x2="261.60" y2="281.50" stroke="#9a9a9a" stroke-width="0.8"/>
<line x1="261.60" y1="162.55" x2="261.60" y2="164.55" stroke="#9a9a9a" stroke-width="0.8"/>
<line x1="288.14" y1="283.50" x2="288.14" y2="281.50" stroke="#9a9a9a" stroke-width="0.8"/>
<line x1="288.14" y1="162.55" x2="288.14" y2="164.55" stroke="#9a9a9a" stroke-width="0.8"/>
<line x1="314.69" y1="283.50" x2="314.69" y2="281.50" stroke="#9a9a9a" stroke-width="0.8"/>
<line x1="314.69" y1="162.55" x2="314.69" y2="164.55" stroke="#9a9a9a" stroke-width="0.8"/>
<line x1="341.23" y1="283.50" x2="341.23" y2="281.50" stroke="#9a9a9a" stroke-width="0.8"/>
<line x1="341.23" y1="162.55" x2="341.23" y2="164.55" stroke="#9a9a9a" stroke-width="0.8"/>
<line x1="367.78" y1="283.50" x2="367.78" y2="281.50" stroke="#9a9a9a" stroke-width="0.8"/>
<line x1="367.78" y1="162.55" x2="367.78" y2="164.55" stroke="#9a9a9a" stroke-width="0.8"/>
<line x1="394.32" y1="283.50" x2="394.32" y2="281.50" stroke="#9a9a9a" stroke-width="0.8"/>
<line x1="394.32" y1="162.55" x2="394.32" y2="164.55" stroke="#9a9a9a" stroke-width="0.8"/>
<line x1="420.87" y1="283.50" x2="420.87" y2="281.50" stroke="#9a9a9a" stroke-width="0.8"/>
<line x1="420.87" y1="162.55" x2="420.87" y2="164.55" stroke="#9a9a9a" stroke-width="0.8"/>
<line x1="447.41" y1="283.50" x2="447.41" y2="281.50" stroke="#9a9a9a" stroke-width="0.8"/>
<line x1="447.41" y1="162.55" x2="447.41" y2="164.55" stroke="#9a9a9a" stroke-width="0.8"/>
<line x1="261.60" y1="162.55" x2="263.60" y2="162.55" stroke="#9a9a9a" stroke-width="0.8"/>
<line x1="458.60" y1="162.55" x2="456.60" y2="162.55" stroke="#9a9a9a" stroke-width="0.8"/>
<line x1="261.60" y1="186.74" x2="263.60" y2="186.74" stroke="#9a9a9a" stroke-width="0.8"/>
<line x1="458.60" y1="186.74" x2="456.60" y2="186.74" stroke="#9a9a9a" stroke-width="0.8"/>
<line x1="261.60" y1="210.93" x2="263.60" y2="210.93" stroke="#9a9a9a" stroke-width="0.8"/>
<line x1="458.60" y1="210.93" x2="456.60" y2="210.93" stroke="#9a9a9a" stroke-width="0.8"/>
<line x1="261.60" y1="235.12" x2="263.60" y2="235.12" stroke="#9a9a9a" stroke-width="0.8"/>
<line x1="458.60" y1="235.12" x2="456.60" y2="235.12" stroke="#9a9a9a" stroke-width="0.8"/>
<line x1="261.60" y1="259.31" x2="263.60" y2="259.31" stroke="#9a9a9a" stroke-width="0.8"/>
<line x1="458.60" y1="259.31" x2="456.60" y2="259.31" stroke="#9a9a9a" stroke-width="0.8"/>
<line x1="261.60" y1="283.50" x2="263.60" y2="283.50" stroke="#9a9a9a" stroke-width="0.8"/>
<line x1="458.60" y1="283.50" x2="456.60" y2="283.50" stroke="#9a9a9a" stroke-width="0.8"/>
<text transform="translate(259.00 164.60) scale(0.97 1)" font-size="6.1" text-anchor="end" font-weight="bold" fill="#222222" >40</text>
<text transform="translate(259.00 188.95) scale(0.97 1)" font-size="6.1" text-anchor="end" font-weight="bold" fill="#222222" >35</text>
<text transform="translate(259.00 213.30) scale(0.97 1)" font-size="6.1" text-anchor="end" font-weight="bold" fill="#222222" >30</text>
<text transform="translate(259.00 237.65) scale(0.97 1)" font-size="6.1" text-anchor="end" font-weight="bold" fill="#222222" >25</text>
<text transform="translate(259.00 262.00) scale(0.97 1)" font-size="6.1" text-anchor="end" font-weight="bold" fill="#222222" >20</text>
<text transform="translate(259.00 286.35) scale(0.97 1)" font-size="6.1" text-anchor="end" font-weight="bold" fill="#222222" >15</text>
<text transform="translate(261.60 291.90) scale(0.97 1)" font-size="6.1" text-anchor="middle" font-weight="bold" fill="#222222" >Aug 02</text>
<text transform="translate(288.14 291.90) scale(0.97 1)" font-size="6.1" text-anchor="middle" font-weight="bold" fill="#222222" >Aug 09</text>
<text transform="translate(314.69 291.90) scale(0.97 1)" font-size="6.1" text-anchor="middle" font-weight="bold" fill="#222222" >Aug 16</text>
<text transform="translate(341.23 291.90) scale(0.97 1)" font-size="6.1" text-anchor="middle" font-weight="bold" fill="#222222" >Aug 23</text>
<text transform="translate(367.78 291.90) scale(0.97 1)" font-size="6.1" text-anchor="middle" font-weight="bold" fill="#222222" >Aug 30</text>
<text transform="translate(394.32 291.90) scale(0.97 1)" font-size="6.1" text-anchor="middle" font-weight="bold" fill="#222222" >Sep 06</text>
<text transform="translate(420.87 291.90) scale(0.97 1)" font-size="6.1" text-anchor="middle" font-weight="bold" fill="#222222" >Sep 13</text>
<text transform="translate(447.41 291.90) scale(0.97 1)" font-size="6.1" text-anchor="middle" font-weight="bold" fill="#222222" >Sep 20</text>
<text transform="translate(447.41 300.90) scale(0.97 1)" font-size="6.1" text-anchor="middle" font-weight="bold" fill="#222222" >2023</text>
<rect x="484.40" y="162.80" width="197.20" height="120.90" fill="none" stroke="#9a9a9a" stroke-width="1.0"/>
<line x1="484.40" y1="283.70" x2="484.40" y2="281.70" stroke="#9a9a9a" stroke-width="0.8"/>
<line x1="484.40" y1="162.80" x2="484.40" y2="164.80" stroke="#9a9a9a" stroke-width="0.8"/>
<line x1="510.97" y1="283.70" x2="510.97" y2="281.70" stroke="#9a9a9a" stroke-width="0.8"/>
<line x1="510.97" y1="162.80" x2="510.97" y2="164.80" stroke="#9a9a9a" stroke-width="0.8"/>
<line x1="537.54" y1="283.70" x2="537.54" y2="281.70" stroke="#9a9a9a" stroke-width="0.8"/>
<line x1="537.54" y1="162.80" x2="537.54" y2="164.80" stroke="#9a9a9a" stroke-width="0.8"/>
<line x1="564.12" y1="283.70" x2="564.12" y2="281.70" stroke="#9a9a9a" stroke-width="0.8"/>
<line x1="564.12" y1="162.80" x2="564.12" y2="164.80" stroke="#9a9a9a" stroke-width="0.8"/>
<line x1="590.69" y1="283.70" x2="590.69" y2="281.70" stroke="#9a9a9a" stroke-width="0.8"/>
<line x1="590.69" y1="162.80" x2="590.69" y2="164.80" stroke="#9a9a9a" stroke-width="0.8"/>
<line x1="617.26" y1="283.70" x2="617.26" y2="281.70" stroke="#9a9a9a" stroke-width="0.8"/>
<line x1="617.26" y1="162.80" x2="617.26" y2="164.80" stroke="#9a9a9a" stroke-width="0.8"/>
<line x1="643.83" y1="283.70" x2="643.83" y2="281.70" stroke="#9a9a9a" stroke-width="0.8"/>
<line x1="643.83" y1="162.80" x2="643.83" y2="164.80" stroke="#9a9a9a" stroke-width="0.8"/>
<line x1="670.40" y1="283.70" x2="670.40" y2="281.70" stroke="#9a9a9a" stroke-width="0.8"/>
<line x1="670.40" y1="162.80" x2="670.40" y2="164.80" stroke="#9a9a9a" stroke-width="0.8"/>
<line x1="484.40" y1="162.80" x2="486.40" y2="162.80" stroke="#9a9a9a" stroke-width="0.8"/>
<line x1="681.60" y1="162.80" x2="679.60" y2="162.80" stroke="#9a9a9a" stroke-width="0.8"/>
<line x1="484.40" y1="186.98" x2="486.40" y2="186.98" stroke="#9a9a9a" stroke-width="0.8"/>
<line x1="681.60" y1="186.98" x2="679.60" y2="186.98" stroke="#9a9a9a" stroke-width="0.8"/>
<line x1="484.40" y1="211.16" x2="486.40" y2="211.16" stroke="#9a9a9a" stroke-width="0.8"/>
<line x1="681.60" y1="211.16" x2="679.60" y2="211.16" stroke="#9a9a9a" stroke-width="0.8"/>
<line x1="484.40" y1="235.34" x2="486.40" y2="235.34" stroke="#9a9a9a" stroke-width="0.8"/>
<line x1="681.60" y1="235.34" x2="679.60" y2="235.34" stroke="#9a9a9a" stroke-width="0.8"/>
<line x1="484.40" y1="259.52" x2="486.40" y2="259.52" stroke="#9a9a9a" stroke-width="0.8"/>
<line x1="681.60" y1="259.52" x2="679.60" y2="259.52" stroke="#9a9a9a" stroke-width="0.8"/>
<line x1="484.40" y1="283.70" x2="486.40" y2="283.70" stroke="#9a9a9a" stroke-width="0.8"/>
<line x1="681.60" y1="283.70" x2="679.60" y2="283.70" stroke="#9a9a9a" stroke-width="0.8"/>
<text transform="translate(481.80 164.85) scale(0.97 1)" font-size="6.1" text-anchor="end" font-weight="bold" fill="#222222" >40</text>
<text transform="translate(481.80 189.19) scale(0.97 1)" font-size="6.1" text-anchor="end" font-weight="bold" fill="#222222" >35</text>
<text transform="translate(481.80 213.53) scale(0.97 1)" font-size="6.1" text-anchor="end" font-weight="bold" fill="#222222" >30</text>
<text transform="translate(481.80 237.87) scale(0.97 1)" font-size="6.1" text-anchor="end" font-weight="bold" fill="#222222" >25</text>
<text transform="translate(481.80 262.21) scale(0.97 1)" font-size="6.1" text-anchor="end" font-weight="bold" fill="#222222" >20</text>
<text transform="translate(481.80 286.55) scale(0.97 1)" font-size="6.1" text-anchor="end" font-weight="bold" fill="#222222" >15</text>
<text transform="translate(484.40 291.90) scale(0.97 1)" font-size="6.1" text-anchor="middle" font-weight="bold" fill="#222222" >Aug 02</text>
<text transform="translate(510.97 291.90) scale(0.97 1)" font-size="6.1" text-anchor="middle" font-weight="bold" fill="#222222" >Aug 09</text>
<text transform="translate(537.54 291.90) scale(0.97 1)" font-size="6.1" text-anchor="middle" font-weight="bold" fill="#222222" >Aug 16</text>
<text transform="translate(564.12 291.90) scale(0.97 1)" font-size="6.1" text-anchor="middle" font-weight="bold" fill="#222222" >Aug 23</text>
<text transform="translate(590.69 291.90) scale(0.97 1)" font-size="6.1" text-anchor="middle" font-weight="bold" fill="#222222" >Aug 30</text>
<text transform="translate(617.26 291.90) scale(0.97 1)" font-size="6.1" text-anchor="middle" font-weight="bold" fill="#222222" >Sep 06</text>
<text transform="translate(643.83 291.90) scale(0.97 1)" font-size="6.1" text-anchor="middle" font-weight="bold" fill="#222222" >Sep 13</text>
<text transform="translate(670.40 291.90) scale(0.97 1)" font-size="6.1" text-anchor="middle" font-weight="bold" fill="#222222" >Sep 20</text>
<text transform="translate(670.40 300.90) scale(0.97 1)" font-size="6.1" text-anchor="middle" font-weight="bold" fill="#222222" >2023</text>
<text x="5.90" y="168.70" font-size="6.9" text-anchor="middle" font-weight="bold" fill="#222222" >d</text>
<text x="246.50" y="167.20" font-size="6.9" text-anchor="middle" font-weight="bold" fill="#222222" >e</text>
<text x="469.80" y="166.80" font-size="6.9" text-anchor="middle" font-weight="bold" fill="#222222" >f</text>
<text x="9.00" y="222.60" font-size="6.7" text-anchor="middle" font-weight="bold" fill="#222222" transform="rotate(-90 9.0 222.6)">SWC (%)</text>
<line x1="22.30" y1="308.30" x2="235.71" y2="308.30" stroke="#8a8a8a" stroke-width="0.8"/>
<line x1="22.30" y1="308.30" x2="22.30" y2="306.10" stroke="#8a8a8a" stroke-width="0.7"/>
<line x1="26.40" y1="308.30" x2="26.40" y2="306.10" stroke="#8a8a8a" stroke-width="0.7"/>
<line x1="30.51" y1="308.30" x2="30.51" y2="307.10" stroke="#8a8a8a" stroke-width="0.7"/>
<line x1="34.61" y1="308.30" x2="34.61" y2="307.10" stroke="#8a8a8a" stroke-width="0.7"/>
<line x1="38.72" y1="308.30" x2="38.72" y2="307.10" stroke="#8a8a8a" stroke-width="0.7"/>
<line x1="42.82" y1="308.30" x2="42.82" y2="307.10" stroke="#8a8a8a" stroke-width="0.7"/>
<line x1="46.92" y1="308.30" x2="46.92" y2="306.10" stroke="#8a8a8a" stroke-width="0.7"/>
<line x1="51.03" y1="308.30" x2="51.03" y2="307.10" stroke="#8a8a8a" stroke-width="0.7"/>
<line x1="55.13" y1="308.30" x2="55.13" y2="307.10" stroke="#8a8a8a" stroke-width="0.7"/>
<line x1="59.24" y1="308.30" x2="59.24" y2="307.10" stroke="#8a8a8a" stroke-width="0.7"/>
<line x1="63.34" y1="308.30" x2="63.34" y2="307.10" stroke="#8a8a8a" stroke-width="0.7"/>
<line x1="67.44" y1="308.30" x2="67.44" y2="306.10" stroke="#8a8a8a" stroke-width="0.7"/>
<line x1="71.55" y1="308.30" x2="71.55" y2="307.10" stroke="#8a8a8a" stroke-width="0.7"/>
<line x1="75.65" y1="308.30" x2="75.65" y2="307.10" stroke="#8a8a8a" stroke-width="0.7"/>
<line x1="79.76" y1="308.30" x2="79.76" y2="307.10" stroke="#8a8a8a" stroke-width="0.7"/>
<line x1="83.86" y1="308.30" x2="83.86" y2="307.10" stroke="#8a8a8a" stroke-width="0.7"/>
<line x1="87.96" y1="308.30" x2="87.96" y2="306.10" stroke="#8a8a8a" stroke-width="0.7"/>
<line x1="92.07" y1="308.30" x2="92.07" y2="307.10" stroke="#8a8a8a" stroke-width="0.7"/>
<line x1="96.17" y1="308.30" x2="96.17" y2="307.10" stroke="#8a8a8a" stroke-width="0.7"/>
<line x1="100.28" y1="308.30" x2="100.28" y2="307.10" stroke="#8a8a8a" stroke-width="0.7"/>
<line x1="104.38" y1="308.30" x2="104.38" y2="307.10" stroke="#8a8a8a" stroke-width="0.7"/>
<line x1="108.48" y1="308.30" x2="108.48" y2="306.10" stroke="#8a8a8a" stroke-width="0.7"/>
<line x1="112.59" y1="308.30" x2="112.59" y2="307.10" stroke="#8a8a8a" stroke-width="0.7"/>
<line x1="116.69" y1="308.30" x2="116.69" y2="307.10" stroke="#8a8a8a" stroke-width="0.7"/>
<line x1="120.80" y1="308.30" x2="120.80" y2="307.10" stroke="#8a8a8a" stroke-width="0.7"/>
<line x1="124.90" y1="308.30" x2="124.90" y2="307.10" stroke="#8a8a8a" stroke-width="0.7"/>
<line x1="129.00" y1="308.30" x2="129.00" y2="306.10" stroke="#8a8a8a" stroke-width="0.7"/>
<line x1="133.11" y1="308.30" x2="133.11" y2="307.10" stroke="#8a8a8a" stroke-width="0.7"/>
<line x1="137.21" y1="308.30" x2="137.21" y2="307.10" stroke="#8a8a8a" stroke-width="0.7"/>
<line x1="141.32" y1="308.30" x2="141.32" y2="307.10" stroke="#8a8a8a" stroke-width="0.7"/>
<line x1="145.42" y1="308.30" x2="145.42" y2="307.10" stroke="#8a8a8a" stroke-width="0.7"/>
<line x1="149.52" y1="308.30" x2="149.52" y2="306.10" stroke="#8a8a8a" stroke-width="0.7"/>
<line x1="153.63" y1="308.30" x2="153.63" y2="307.10" stroke="#8a8a8a" stroke-width="0.7"/>
<line x1="157.73" y1="308.30" x2="157.73" y2="307.10" stroke="#8a8a8a" stroke-width="0.7"/>
<line x1="161.84" y1="308.30" x2="161.84" y2="307.10" stroke="#8a8a8a" stroke-width="0.7"/>
<line x1="165.94" y1="308.30" x2="165.94" y2="307.10" stroke="#8a8a8a" stroke-width="0.7"/>
<line x1="170.04" y1="308.30" x2="170.04" y2="306.10" stroke="#8a8a8a" stroke-width="0.7"/>
<line x1="174.15" y1="308.30" x2="174.15" y2="307.10" stroke="#8a8a8a" stroke-width="0.7"/>
<line x1="178.25" y1="308.30" x2="178.25" y2="307.10" stroke="#8a8a8a" stroke-width="0.7"/>
<line x1="182.36" y1="308.30" x2="182.36" y2="307.10" stroke="#8a8a8a" stroke-width="0.7"/>
<line x1="186.46" y1="308.30" x2="186.46" y2="307.10" stroke="#8a8a8a" stroke-width="0.7"/>
<line x1="190.56" y1="308.30" x2="190.56" y2="306.10" stroke="#8a8a8a" stroke-width="0.7"/>
<line x1="194.67" y1="308.30" x2="194.67" y2="307.10" stroke="#8a8a8a" stroke-width="0.7"/>
<line x1="198.77" y1="308.30" x2="198.77" y2="307.10" stroke="#8a8a8a" stroke-width="0.7"/>
<line x1="202.88" y1="308.30" x2="202.88" y2="307.10" stroke="#8a8a8a" stroke-width="0.7"/>
<line x1="206.98" y1="308.30" x2="206.98" y2="307.10" stroke="#8a8a8a" stroke-width="0.7"/>
<line x1="211.08" y1="308.30" x2="211.08" y2="306.10" stroke="#8a8a8a" stroke-width="0.7"/>
<line x1="215.19" y1="308.30" x2="215.19" y2="307.10" stroke="#8a8a8a" stroke-width="0.7"/>
<line x1="219.29" y1="308.30" x2="219.29" y2="307.10" stroke="#8a8a8a" stroke-width="0.7"/>
<line x1="223.40" y1="308.30" x2="223.40" y2="307.10" stroke="#8a8a8a" stroke-width="0.7"/>
<line x1="227.50" y1="308.30" x2="227.50" y2="307.10" stroke="#8a8a8a" stroke-width="0.7"/>
<line x1="231.60" y1="308.30" x2="231.60" y2="306.10" stroke="#8a8a8a" stroke-width="0.7"/>
<line x1="235.71" y1="308.30" x2="235.71" y2="307.10" stroke="#8a8a8a" stroke-width="0.7"/>
<text transform="translate(26.40 316.70) scale(0.97 1)" font-size="6.1" text-anchor="middle" font-weight="bold" fill="#222222" >215</text>
<text transform="translate(46.92 316.70) scale(0.97 1)" font-size="6.1" text-anchor="middle" font-weight="bold" fill="#222222" >220</text>
<text transform="translate(67.44 316.70) scale(0.97 1)" font-size="6.1" text-anchor="middle" font-weight="bold" fill="#222222" >225</text>
<text transform="translate(87.96 316.70) scale(0.97 1)" font-size="6.1" text-anchor="middle" font-weight="bold" fill="#222222" >230</text>
<text transform="translate(108.48 316.70) scale(0.97 1)" font-size="6.1" text-anchor="middle" font-weight="bold" fill="#222222" >235</text>
<text transform="translate(129.00 316.70) scale(0.97 1)" font-size="6.1" text-anchor="middle" font-weight="bold" fill="#222222" >240</text>
<text transform="translate(149.52 316.70) scale(0.97 1)" font-size="6.1" text-anchor="middle" font-weight="bold" fill="#222222" >245</text>
<text transform="translate(170.04 316.70) scale(0.97 1)" font-size="6.1" text-anchor="middle" font-weight="bold" fill="#222222" >250</text>
<text transform="translate(190.56 316.70) scale(0.97 1)" font-size="6.1" text-anchor="middle" font-weight="bold" fill="#222222" >255</text>
<text transform="translate(211.08 316.70) scale(0.97 1)" font-size="6.1" text-anchor="middle" font-weight="bold" fill="#222222" >260</text>
<text transform="translate(231.60 316.70) scale(0.97 1)" font-size="6.1" text-anchor="middle" font-weight="bold" fill="#222222" >265</text>
<text x="129.00" y="325.40" font-size="6.5" text-anchor="middle" font-weight="bold" fill="#222222" >DOY</text>
<line x1="257.30" y1="306.80" x2="464.00" y2="306.80" stroke="#8a8a8a" stroke-width="0.8"/>
<line x1="257.30" y1="306.80" x2="257.30" y2="304.60" stroke="#8a8a8a" stroke-width="0.7"/>
<line x1="261.28" y1="306.80" x2="261.28" y2="304.60" stroke="#8a8a8a" stroke-width="0.7"/>
<line x1="265.25" y1="306.80" x2="265.25" y2="305.60" stroke="#8a8a8a" stroke-width="0.7"/>
<line x1="269.23" y1="306.80" x2="269.23" y2="305.60" stroke="#8a8a8a" stroke-width="0.7"/>
<line x1="273.20" y1="306.80" x2="273.20" y2="305.60" stroke="#8a8a8a" stroke-width="0.7"/>
<line x1="277.18" y1="306.80" x2="277.18" y2="305.60" stroke="#8a8a8a" stroke-width="0.7"/>
<line x1="281.15" y1="306.80" x2="281.15" y2="304.60" stroke="#8a8a8a" stroke-width="0.7"/>
<line x1="285.12" y1="306.80" x2="285.12" y2="305.60" stroke="#8a8a8a" stroke-width="0.7"/>
<line x1="289.10" y1="306.80" x2="289.10" y2="305.60" stroke="#8a8a8a" stroke-width="0.7"/>
<line x1="293.07" y1="306.80" x2="293.07" y2="305.60" stroke="#8a8a8a" stroke-width="0.7"/>
<line x1="297.05" y1="306.80" x2="297.05" y2="305.60" stroke="#8a8a8a" stroke-width="0.7"/>
<line x1="301.03" y1="306.80" x2="301.03" y2="304.60" stroke="#8a8a8a" stroke-width="0.7"/>
<line x1="305.00" y1="306.80" x2="305.00" y2="305.60" stroke="#8a8a8a" stroke-width="0.7"/>
<line x1="308.98" y1="306.80" x2="308.98" y2="305.60" stroke="#8a8a8a" stroke-width="0.7"/>
<line x1="312.95" y1="306.80" x2="312.95" y2="305.60" stroke="#8a8a8a" stroke-width="0.7"/>
<line x1="316.93" y1="306.80" x2="316.93" y2="305.60" stroke="#8a8a8a" stroke-width="0.7"/>
<line x1="320.90" y1="306.80" x2="320.90" y2="304.60" stroke="#8a8a8a" stroke-width="0.7"/>
<line x1="324.88" y1="306.80" x2="324.88" y2="305.60" stroke="#8a8a8a" stroke-width="0.7"/>
<line x1="328.85" y1="306.80" x2="328.85" y2="305.60" stroke="#8a8a8a" stroke-width="0.7"/>
<line x1="332.83" y1="306.80" x2="332.83" y2="305.60" stroke="#8a8a8a" stroke-width="0.7"/>
<line x1="336.80" y1="306.80" x2="336.80" y2="305.60" stroke="#8a8a8a" stroke-width="0.7"/>
<line x1="340.78" y1="306.80" x2="340.78" y2="304.60" stroke="#8a8a8a" stroke-width="0.7"/>
<line x1="344.75" y1="306.80" x2="344.75" y2="305.60" stroke="#8a8a8a" stroke-width="0.7"/>
<line x1="348.73" y1="306.80" x2="348.73" y2="305.60" stroke="#8a8a8a" stroke-width="0.7"/>
<line x1="352.70" y1="306.80" x2="352.70" y2="305.60" stroke="#8a8a8a" stroke-width="0.7"/>
<line x1="356.68" y1="306.80" x2="356.68" y2="305.60" stroke="#8a8a8a" stroke-width="0.7"/>
<line x1="360.65" y1="306.80" x2="360.65" y2="304.60" stroke="#8a8a8a" stroke-width="0.7"/>
<line x1="364.62" y1="306.80" x2="364.62" y2="305.60" stroke="#8a8a8a" stroke-width="0.7"/>
<line x1="368.60" y1="306.80" x2="368.60" y2="305.60" stroke="#8a8a8a" stroke-width="0.7"/>
<line x1="372.58" y1="306.80" x2="372.58" y2="305.60" stroke="#8a8a8a" stroke-width="0.7"/>
<line x1="376.55" y1="306.80" x2="376.55" y2="305.60" stroke="#8a8a8a" stroke-width="0.7"/>
<line x1="380.53" y1="306.80" x2="380.53" y2="304.60" stroke="#8a8a8a" stroke-width="0.7"/>
<line x1="384.50" y1="306.80" x2="384.50" y2="305.60" stroke="#8a8a8a" stroke-width="0.7"/>
<line x1="388.48" y1="306.80" x2="388.48" y2="305.60" stroke="#8a8a8a" stroke-width="0.7"/>
<line x1="392.45" y1="306.80" x2="392.45" y2="305.60" stroke="#8a8a8a" stroke-width="0.7"/>
<line x1="396.43" y1="306.80" x2="396.43" y2="305.60" stroke="#8a8a8a" stroke-width="0.7"/>
<line x1="400.40" y1="306.80" x2="400.40" y2="304.60" stroke="#8a8a8a" stroke-width="0.7"/>
<line x1="404.38" y1="306.80" x2="404.38" y2="305.60" stroke="#8a8a8a" stroke-width="0.7"/>
<line x1="408.35" y1="306.80" x2="408.35" y2="305.60" stroke="#8a8a8a" stroke-width="0.7"/>
<line x1="412.33" y1="306.80" x2="412.33" y2="305.60" stroke="#8a8a8a" stroke-width="0.7"/>
<line x1="416.30" y1="306.80" x2="416.30" y2="305.60" stroke="#8a8a8a" stroke-width="0.7"/>
<line x1="420.27" y1="306.80" x2="420.27" y2="304.60" stroke="#8a8a8a" stroke-width="0.7"/>
<line x1="424.25" y1="306.80" x2="424.25" y2="305.60" stroke="#8a8a8a" stroke-width="0.7"/>
<line x1="428.23" y1="306.80" x2="428.23" y2="305.60" stroke="#8a8a8a" stroke-width="0.7"/>
<line x1="432.20" y1="306.80" x2="432.20" y2="305.60" stroke="#8a8a8a" stroke-width="0.7"/>
<line x1="436.18" y1="306.80" x2="436.18" y2="305.60" stroke="#8a8a8a" stroke-width="0.7"/>
<line x1="440.15" y1="306.80" x2="440.15" y2="304.60" stroke="#8a8a8a" stroke-width="0.7"/>
<line x1="444.12" y1="306.80" x2="444.12" y2="305.60" stroke="#8a8a8a" stroke-width="0.7"/>
<line x1="448.10" y1="306.80" x2="448.10" y2="305.60" stroke="#8a8a8a" stroke-width="0.7"/>
<line x1="452.08" y1="306.80" x2="452.08" y2="305.60" stroke="#8a8a8a" stroke-width="0.7"/>
<line x1="456.05" y1="306.80" x2="456.05" y2="305.60" stroke="#8a8a8a" stroke-width="0.7"/>
<line x1="460.02" y1="306.80" x2="460.02" y2="304.60" stroke="#8a8a8a" stroke-width="0.7"/>
<line x1="464.00" y1="306.80" x2="464.00" y2="305.60" stroke="#8a8a8a" stroke-width="0.7"/>
<text transform="translate(261.28 315.80) scale(0.97 1)" font-size="6.1" text-anchor="middle" font-weight="bold" fill="#222222" >215</text>
<text transform="translate(281.15 315.80) scale(0.97 1)" font-size="6.1" text-anchor="middle" font-weight="bold" fill="#222222" >220</text>
<text transform="translate(301.03 315.80) scale(0.97 1)" font-size="6.1" text-anchor="middle" font-weight="bold" fill="#222222" >225</text>
<text transform="translate(320.90 315.80) scale(0.97 1)" font-size="6.1" text-anchor="middle" font-weight="bold" fill="#222222" >230</text>
<text transform="translate(340.78 315.80) scale(0.97 1)" font-size="6.1" text-anchor="middle" font-weight="bold" fill="#222222" >235</text>
<text transform="translate(360.65 315.80) scale(0.97 1)" font-size="6.1" text-anchor="middle" font-weight="bold" fill="#222222" >240</text>
<text transform="translate(380.53 315.80) scale(0.97 1)" font-size="6.1" text-anchor="middle" font-weight="bold" fill="#222222" >245</text>
<text transform="translate(400.40 315.80) scale(0.97 1)" font-size="6.1" text-anchor="middle" font-weight="bold" fill="#222222" >250</text>
<text transform="translate(420.27 315.80) scale(0.97 1)" font-size="6.1" text-anchor="middle" font-weight="bold" fill="#222222" >255</text>
<text transform="translate(440.15 315.80) scale(0.97 1)" font-size="6.1" text-anchor="middle" font-weight="bold" fill="#222222" >260</text>
<text transform="translate(460.02 315.80) scale(0.97 1)" font-size="6.1" text-anchor="middle" font-weight="bold" fill="#222222" >265</text>
<text x="360.65" y="324.60" font-size="6.5" text-anchor="middle" font-weight="bold" fill="#222222" >DOY</text>
<line x1="484.10" y1="306.40" x2="681.18" y2="306.40" stroke="#8a8a8a" stroke-width="0.8"/>
<line x1="484.10" y1="306.40" x2="484.10" y2="304.20" stroke="#8a8a8a" stroke-width="0.7"/>
<line x1="487.89" y1="306.40" x2="487.89" y2="304.20" stroke="#8a8a8a" stroke-width="0.7"/>
<line x1="491.68" y1="306.40" x2="491.68" y2="305.20" stroke="#8a8a8a" stroke-width="0.7"/>
<line x1="495.47" y1="306.40" x2="495.47" y2="305.20" stroke="#8a8a8a" stroke-width="0.7"/>
<line x1="499.26" y1="306.40" x2="499.26" y2="305.20" stroke="#8a8a8a" stroke-width="0.7"/>
<line x1="503.05" y1="306.40" x2="503.05" y2="305.20" stroke="#8a8a8a" stroke-width="0.7"/>
<line x1="506.84" y1="306.40" x2="506.84" y2="304.20" stroke="#8a8a8a" stroke-width="0.7"/>
<line x1="510.63" y1="306.40" x2="510.63" y2="305.20" stroke="#8a8a8a" stroke-width="0.7"/>
<line x1="514.42" y1="306.40" x2="514.42" y2="305.20" stroke="#8a8a8a" stroke-width="0.7"/>
<line x1="518.21" y1="306.40" x2="518.21" y2="305.20" stroke="#8a8a8a" stroke-width="0.7"/>
<line x1="522.00" y1="306.40" x2="522.00" y2="305.20" stroke="#8a8a8a" stroke-width="0.7"/>
<line x1="525.79" y1="306.40" x2="525.79" y2="304.20" stroke="#8a8a8a" stroke-width="0.7"/>
<line x1="529.58" y1="306.40" x2="529.58" y2="305.20" stroke="#8a8a8a" stroke-width="0.7"/>
<line x1="533.37" y1="306.40" x2="533.37" y2="305.20" stroke="#8a8a8a" stroke-width="0.7"/>
<line x1="537.16" y1="306.40" x2="537.16" y2="305.20" stroke="#8a8a8a" stroke-width="0.7"/>
<line x1="540.95" y1="306.40" x2="540.95" y2="305.20" stroke="#8a8a8a" stroke-width="0.7"/>
<line x1="544.74" y1="306.40" x2="544.74" y2="304.20" stroke="#8a8a8a" stroke-width="0.7"/>
<line x1="548.53" y1="306.40" x2="548.53" y2="305.20" stroke="#8a8a8a" stroke-width="0.7"/>
<line x1="552.32" y1="306.40" x2="552.32" y2="305.20" stroke="#8a8a8a" stroke-width="0.7"/>
<line x1="556.11" y1="306.40" x2="556.11" y2="305.20" stroke="#8a8a8a" stroke-width="0.7"/>
<line x1="559.90" y1="306.40" x2="559.90" y2="305.20" stroke="#8a8a8a" stroke-width="0.7"/>
<line x1="563.69" y1="306.40" x2="563.69" y2="304.20" stroke="#8a8a8a" stroke-width="0.7"/>
<line x1="567.48" y1="306.40" x2="567.48" y2="305.20" stroke="#8a8a8a" stroke-width="0.7"/>
<line x1="571.27" y1="306.40" x2="571.27" y2="305.20" stroke="#8a8a8a" stroke-width="0.7"/>
<line x1="575.06" y1="306.40" x2="575.06" y2="305.20" stroke="#8a8a8a" stroke-width="0.7"/>
<line x1="578.85" y1="306.40" x2="578.85" y2="305.20" stroke="#8a8a8a" stroke-width="0.7"/>
<line x1="582.64" y1="306.40" x2="582.64" y2="304.20" stroke="#8a8a8a" stroke-width="0.7"/>
<line x1="586.43" y1="306.40" x2="586.43" y2="305.20" stroke="#8a8a8a" stroke-width="0.7"/>
<line x1="590.22" y1="306.40" x2="590.22" y2="305.20" stroke="#8a8a8a" stroke-width="0.7"/>
<line x1="594.01" y1="306.40" x2="594.01" y2="305.20" stroke="#8a8a8a" stroke-width="0.7"/>
<line x1="597.80" y1="306.40" x2="597.80" y2="305.20" stroke="#8a8a8a" stroke-width="0.7"/>
<line x1="601.59" y1="306.40" x2="601.59" y2="304.20" stroke="#8a8a8a" stroke-width="0.7"/>
<line x1="605.38" y1="306.40" x2="605.38" y2="305.20" stroke="#8a8a8a" stroke-width="0.7"/>
<line x1="609.17" y1="306.40" x2="609.17" y2="305.20" stroke="#8a8a8a" stroke-width="0.7"/>
<line x1="612.96" y1="306.40" x2="612.96" y2="305.20" stroke="#8a8a8a" stroke-width="0.7"/>
<line x1="616.75" y1="306.40" x2="616.75" y2="305.20" stroke="#8a8a8a" stroke-width="0.7"/>
<line x1="620.54" y1="306.40" x2="620.54" y2="304.20" stroke="#8a8a8a" stroke-width="0.7"/>
<line x1="624.33" y1="306.40" x2="624.33" y2="305.20" stroke="#8a8a8a" stroke-width="0.7"/>
<line x1="628.12" y1="306.40" x2="628.12" y2="305.20" stroke="#8a8a8a" stroke-width="0.7"/>
<line x1="631.91" y1="306.40" x2="631.91" y2="305.20" stroke="#8a8a8a" stroke-width="0.7"/>
<line x1="635.70" y1="306.40" x2="635.70" y2="305.20" stroke="#8a8a8a" stroke-width="0.7"/>
<line x1="639.49" y1="306.40" x2="639.49" y2="304.20" stroke="#8a8a8a" stroke-width="0.7"/>
<line x1="643.28" y1="306.40" x2="643.28" y2="305.20" stroke="#8a8a8a" stroke-width="0.7"/>
<line x1="647.07" y1="306.40" x2="647.07" y2="305.20" stroke="#8a8a8a" stroke-width="0.7"/>
<line x1="650.86" y1="306.40" x2="650.86" y2="305.20" stroke="#8a8a8a" stroke-width="0.7"/>
<line x1="654.65" y1="306.40" x2="654.65" y2="305.20" stroke="#8a8a8a" stroke-width="0.7"/>
<line x1="658.44" y1="306.40" x2="658.44" y2="304.20" stroke="#8a8a8a" stroke-width="0.7"/>
<line x1="662.23" y1="306.40" x2="662.23" y2="305.20" stroke="#8a8a8a" stroke-width="0.7"/>
<line x1="666.02" y1="306.40" x2="666.02" y2="305.20" stroke="#8a8a8a" stroke-width="0.7"/>
<line x1="669.81" y1="306.40" x2="669.81" y2="305.20" stroke="#8a8a8a" stroke-width="0.7"/>
<line x1="673.60" y1="306.40" x2="673.60" y2="305.20" stroke="#8a8a8a" stroke-width="0.7"/>
<line x1="677.39" y1="306.40" x2="677.39" y2="304.20" stroke="#8a8a8a" stroke-width="0.7"/>
<line x1="681.18" y1="306.40" x2="681.18" y2="305.20" stroke="#8a8a8a" stroke-width="0.7"/>
<text transform="translate(487.89 315.50) scale(0.97 1)" font-size="6.1" text-anchor="middle" font-weight="bold" fill="#222222" >215</text>
<text transform="translate(506.84 315.50) scale(0.97 1)" font-size="6.1" text-anchor="middle" font-weight="bold" fill="#222222" >220</text>
<text transform="translate(525.79 315.50) scale(0.97 1)" font-size="6.1" text-anchor="middle" font-weight="bold" fill="#222222" >225</text>
<text transform="translate(544.74 315.50) scale(0.97 1)" font-size="6.1" text-anchor="middle" font-weight="bold" fill="#222222" >230</text>
<text transform="translate(563.69 315.50) scale(0.97 1)" font-size="6.1" text-anchor="middle" font-weight="bold" fill="#222222" >235</text>
<text transform="translate(582.64 315.50) scale(0.97 1)" font-size="6.1" text-anchor="middle" font-weight="bold" fill="#222222" >240</text>
<text transform="translate(601.59 315.50) scale(0.97 1)" font-size="6.1" text-anchor="middle" font-weight="bold" fill="#222222" >245</text>
<text transform="translate(620.54 315.50) scale(0.97 1)" font-size="6.1" text-anchor="middle" font-weight="bold" fill="#222222" >250</text>
<text transform="translate(639.49 315.50) scale(0.97 1)" font-size="6.1" text-anchor="middle" font-weight="bold" fill="#222222" >255</text>
<text transform="translate(658.44 315.50) scale(0.97 1)" font-size="6.1" text-anchor="middle" font-weight="bold" fill="#222222" >260</text>
<text transform="translate(677.39 315.50) scale(0.97 1)" font-size="6.1" text-anchor="middle" font-weight="bold" fill="#222222" >265</text>
<text x="582.64" y="324.20" font-size="6.5" text-anchor="middle" font-weight="bold" fill="#222222" >DOY</text>
<text x="328.20" y="101.90" font-size="6.95" text-anchor="middle" font-weight="normal" fill="#c92a2a" >Stress</text>
<line x1="328.00" y1="103.50" x2="328.00" y2="125.30" stroke="#c92a2a" stroke-width="1.0"/><polygon points="328.00,129.30 326.10,125.30 329.90,125.30" fill="#c92a2a"/>
<text x="349.50" y="114.80" font-size="6.95" text-anchor="middle" font-weight="normal" fill="#659c2c" >Recovery</text>
<line x1="349.40" y1="116.50" x2="349.40" y2="123.80" stroke="#659c2c" stroke-width="1.0"/><polygon points="349.40,127.80 347.50,123.80 351.30,123.80" fill="#659c2c"/>
<text x="518.40" y="104.60" font-size="6.95" text-anchor="middle" font-weight="normal" fill="#c92a2a" >Stress</text>
<line x1="518.50" y1="106.40" x2="518.50" y2="127.70" stroke="#c92a2a" stroke-width="1.0"/><polygon points="518.50,131.70 516.60,127.70 520.40,127.70" fill="#c92a2a"/>
<text x="542.50" y="118.60" font-size="6.95" text-anchor="middle" font-weight="normal" fill="#659c2c" >Recovery</text>
<line x1="557.20" y1="120.10" x2="568.92" y2="127.55" stroke="#659c2c" stroke-width="1.0"/><polygon points="572.30,129.70 567.91,129.16 569.94,125.95" fill="#659c2c"/>
<text x="598.40" y="103.80" font-size="6.95" text-anchor="middle" font-weight="normal" fill="#c92a2a" >Stress</text>
<line x1="598.20" y1="105.60" x2="598.20" y2="127.10" stroke="#c92a2a" stroke-width="1.0"/><polygon points="598.20,131.10 596.30,127.10 600.10,127.10" fill="#c92a2a"/>
<text x="661.30" y="80.10" font-size="6.95" text-anchor="middle" font-weight="normal" fill="#659c2c" >Recovery</text>
<line x1="661.30" y1="82.30" x2="643.87" y2="115.26" stroke="#659c2c" stroke-width="1.0"/><polygon points="642.00,118.80 642.19,114.38 645.55,116.15" fill="#659c2c"/>
<rect x="198.70" y="117.20" width="33.10" height="8.60" fill="#fff" stroke="#9a9a9a" stroke-width="0.8"/>
<line x1="200.3" y1="121.5" x2="215.1" y2="121.5" stroke="#8dbf55" stroke-width="1.1"/>
<text x="216.20" y="123.60" font-size="5.4" text-anchor="start" font-weight="bold" fill="#222222" >CTRL</text>
<rect x="423.00" y="118.60" width="29.70" height="8.20" fill="#fff" stroke="#9a9a9a" stroke-width="0.8"/>
<line x1="424.8" y1="123.0" x2="439.1" y2="123.0" stroke="#eac25a" stroke-width="1.1"/>
<text x="440.50" y="125.00" font-size="5.4" text-anchor="start" font-weight="bold" fill="#222222" >Mild</text>
<rect x="643.10" y="121.20" width="36.40" height="8.00" fill="#fff" stroke="#9a9a9a" stroke-width="0.8"/>
<line x1="645.0" y1="125.3" x2="659.5" y2="125.3" stroke="#e04848" stroke-width="1.1"/>
<text x="660.60" y="127.30" font-size="5.4" text-anchor="start" font-weight="bold" fill="#222222" >Severe</text>
<rect x="185.20" y="261.70" width="45.40" height="15.40" fill="#fff" stroke="#9a9a9a" stroke-width="0.8"/>
<line x1="187.0" y1="266.2" x2="201.4" y2="266.2" stroke="#333" stroke-width="0.9"/>
<text x="203.00" y="268.20" font-size="5.2" text-anchor="start" font-weight="bold" fill="#222222" >0-30 cm</text>
<line x1="187.0" y1="272.9" x2="201.4" y2="272.9" stroke="#a0a0e0" stroke-width="1.1"/>
<text x="203.00" y="274.90" font-size="5.2" text-anchor="start" font-weight="bold" fill="#222222" >30 - 60 cm</text>
</svg>
</body></html>
